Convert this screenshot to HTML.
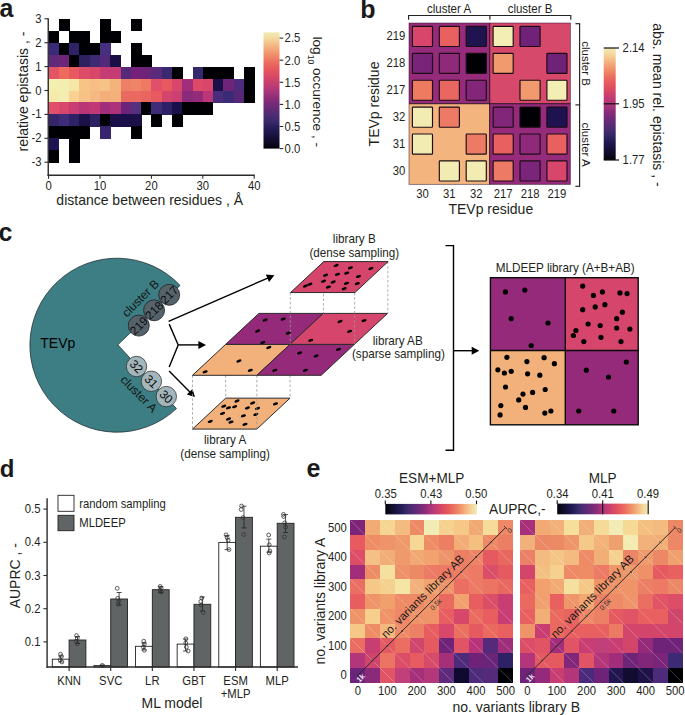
<!DOCTYPE html>
<html><head><meta charset="utf-8"><title>figure</title>
<style>
html,body{margin:0;padding:0;background:#ffffff;width:685px;height:715px;overflow:hidden}
svg{display:block}
text{font-family:"Liberation Sans",sans-serif}
</style></head><body>
<svg width="685" height="715" viewBox="0 0 685 715">
<rect x="0" y="0" width="685" height="715" fill="#fff"/>
<text x="-0.50" y="16.80" font-size="25" text-anchor="start" fill="#1a1a1a" font-weight="bold" >a</text>
<g shape-rendering="crispEdges">
<rect x="58.88" y="18.80" width="10.68" height="12.35" fill="#000004" />
<rect x="100.00" y="18.80" width="10.68" height="12.35" fill="#000004" />
<rect x="130.84" y="18.80" width="10.68" height="12.35" fill="#000004" />
<rect x="48.60" y="30.75" width="10.68" height="12.35" fill="#000004" />
<rect x="69.16" y="30.75" width="10.68" height="12.35" fill="#000004" />
<rect x="79.44" y="30.75" width="10.68" height="12.35" fill="#000004" />
<rect x="100.00" y="30.75" width="10.68" height="12.35" fill="#000004" />
<rect x="110.28" y="30.75" width="10.68" height="12.35" fill="#000004" />
<rect x="48.60" y="42.70" width="10.68" height="12.35" fill="#3b2a7a" />
<rect x="58.88" y="42.70" width="10.68" height="12.35" fill="#000004" />
<rect x="69.16" y="42.70" width="10.68" height="12.35" fill="#2f2266" />
<rect x="79.44" y="42.70" width="10.68" height="12.35" fill="#000004" />
<rect x="89.72" y="42.70" width="10.68" height="12.35" fill="#000004" />
<rect x="100.00" y="42.70" width="10.68" height="12.35" fill="#45307f" />
<rect x="130.84" y="42.70" width="10.68" height="12.35" fill="#000004" />
<rect x="48.60" y="54.65" width="10.68" height="12.35" fill="#5f2a78" />
<rect x="58.88" y="54.65" width="10.68" height="12.35" fill="#6e2478" />
<rect x="69.16" y="54.65" width="10.68" height="12.35" fill="#000004" />
<rect x="79.44" y="54.65" width="10.68" height="12.35" fill="#2e215f" />
<rect x="89.72" y="54.65" width="10.68" height="12.35" fill="#3c2a75" />
<rect x="100.00" y="54.65" width="10.68" height="12.35" fill="#55297a" />
<rect x="110.28" y="54.65" width="10.68" height="12.35" fill="#1a0f45" />
<rect x="130.84" y="54.65" width="10.68" height="12.35" fill="#000004" />
<rect x="141.12" y="54.65" width="10.68" height="12.35" fill="#000004" />
<rect x="48.60" y="66.60" width="10.68" height="12.35" fill="#e55465" />
<rect x="58.88" y="66.60" width="10.68" height="12.35" fill="#ee6a5c" />
<rect x="69.16" y="66.60" width="10.68" height="12.35" fill="#e85a5f" />
<rect x="79.44" y="66.60" width="10.68" height="12.35" fill="#dc4b68" />
<rect x="89.72" y="66.60" width="10.68" height="12.35" fill="#d8476a" />
<rect x="100.00" y="66.60" width="10.68" height="12.35" fill="#c53b74" />
<rect x="110.28" y="66.60" width="10.68" height="12.35" fill="#c53b74" />
<rect x="120.56" y="66.60" width="10.68" height="12.35" fill="#56297a" />
<rect x="130.84" y="66.60" width="10.68" height="12.35" fill="#75207a" />
<rect x="141.12" y="66.60" width="10.68" height="12.35" fill="#6e2378" />
<rect x="151.40" y="66.60" width="10.68" height="12.35" fill="#5a2a7c" />
<rect x="161.68" y="66.60" width="10.68" height="12.35" fill="#3a2870" />
<rect x="171.96" y="66.60" width="10.68" height="12.35" fill="#000004" />
<rect x="192.52" y="66.60" width="10.68" height="12.35" fill="#35286e" />
<rect x="202.80" y="66.60" width="10.68" height="12.35" fill="#000004" />
<rect x="213.08" y="66.60" width="10.68" height="12.35" fill="#000004" />
<rect x="223.36" y="66.60" width="10.68" height="12.35" fill="#000004" />
<rect x="243.92" y="66.60" width="10.68" height="12.35" fill="#000004" />
<rect x="48.60" y="78.55" width="10.68" height="12.35" fill="#f2efb0" />
<rect x="58.88" y="78.55" width="10.68" height="12.35" fill="#f2eeb0" />
<rect x="69.16" y="78.55" width="10.68" height="12.35" fill="#f6e6a8" />
<rect x="79.44" y="78.55" width="10.68" height="12.35" fill="#f7c486" />
<rect x="89.72" y="78.55" width="10.68" height="12.35" fill="#f6bd84" />
<rect x="100.00" y="78.55" width="10.68" height="12.35" fill="#f7c285" />
<rect x="110.28" y="78.55" width="10.68" height="12.35" fill="#f4b37c" />
<rect x="120.56" y="78.55" width="10.68" height="12.35" fill="#ee8068" />
<rect x="130.84" y="78.55" width="10.68" height="12.35" fill="#ef8468" />
<rect x="141.12" y="78.55" width="10.68" height="12.35" fill="#ee7a64" />
<rect x="151.40" y="78.55" width="10.68" height="12.35" fill="#e0506a" />
<rect x="161.68" y="78.55" width="10.68" height="12.35" fill="#e8585f" />
<rect x="171.96" y="78.55" width="10.68" height="12.35" fill="#d8466c" />
<rect x="182.24" y="78.55" width="10.68" height="12.35" fill="#a12e7a" />
<rect x="192.52" y="78.55" width="10.68" height="12.35" fill="#dc4a68" />
<rect x="202.80" y="78.55" width="10.68" height="12.35" fill="#d8466c" />
<rect x="213.08" y="78.55" width="10.68" height="12.35" fill="#1b1048" />
<rect x="223.36" y="78.55" width="10.68" height="12.35" fill="#6e2478" />
<rect x="233.64" y="78.55" width="10.68" height="12.35" fill="#4d2b7d" />
<rect x="243.92" y="78.55" width="10.68" height="12.35" fill="#000004" />
<rect x="48.60" y="90.50" width="10.68" height="12.35" fill="#f4eaa9" />
<rect x="58.88" y="90.50" width="10.68" height="12.35" fill="#f2edb0" />
<rect x="69.16" y="90.50" width="10.68" height="12.35" fill="#f8d193" />
<rect x="79.44" y="90.50" width="10.68" height="12.35" fill="#f6c286" />
<rect x="89.72" y="90.50" width="10.68" height="12.35" fill="#f5b882" />
<rect x="100.00" y="90.50" width="10.68" height="12.35" fill="#f4ae7a" />
<rect x="110.28" y="90.50" width="10.68" height="12.35" fill="#f4b07b" />
<rect x="120.56" y="90.50" width="10.68" height="12.35" fill="#ea6960" />
<rect x="130.84" y="90.50" width="10.68" height="12.35" fill="#ea6a5f" />
<rect x="141.12" y="90.50" width="10.68" height="12.35" fill="#e9655f" />
<rect x="151.40" y="90.50" width="10.68" height="12.35" fill="#e85a5f" />
<rect x="161.68" y="90.50" width="10.68" height="12.35" fill="#d4456c" />
<rect x="171.96" y="90.50" width="10.68" height="12.35" fill="#cc3f71" />
<rect x="182.24" y="90.50" width="10.68" height="12.35" fill="#8a2a7a" />
<rect x="192.52" y="90.50" width="10.68" height="12.35" fill="#932b7a" />
<rect x="202.80" y="90.50" width="10.68" height="12.35" fill="#bb3677" />
<rect x="213.08" y="90.50" width="10.68" height="12.35" fill="#4a2c7c" />
<rect x="223.36" y="90.50" width="10.68" height="12.35" fill="#3b2a75" />
<rect x="233.64" y="90.50" width="10.68" height="12.35" fill="#57287a" />
<rect x="243.92" y="90.50" width="10.68" height="12.35" fill="#000004" />
<rect x="48.60" y="102.45" width="10.68" height="12.35" fill="#e0506a" />
<rect x="58.88" y="102.45" width="10.68" height="12.35" fill="#d8466c" />
<rect x="69.16" y="102.45" width="10.68" height="12.35" fill="#ca3d72" />
<rect x="79.44" y="102.45" width="10.68" height="12.35" fill="#b93576" />
<rect x="89.72" y="102.45" width="10.68" height="12.35" fill="#c03875" />
<rect x="100.00" y="102.45" width="10.68" height="12.35" fill="#a12e7a" />
<rect x="110.28" y="102.45" width="10.68" height="12.35" fill="#ae3279" />
<rect x="120.56" y="102.45" width="10.68" height="12.35" fill="#6b2479" />
<rect x="130.84" y="102.45" width="10.68" height="12.35" fill="#54307e" />
<rect x="141.12" y="102.45" width="10.68" height="12.35" fill="#000004" />
<rect x="151.40" y="102.45" width="10.68" height="12.35" fill="#3f2c78" />
<rect x="161.68" y="102.45" width="10.68" height="12.35" fill="#2e2166" />
<rect x="171.96" y="102.45" width="10.68" height="12.35" fill="#1c1048" />
<rect x="182.24" y="102.45" width="10.68" height="12.35" fill="#000004" />
<rect x="192.52" y="102.45" width="10.68" height="12.35" fill="#000004" />
<rect x="202.80" y="102.45" width="10.68" height="12.35" fill="#000004" />
<rect x="48.60" y="114.40" width="10.68" height="12.35" fill="#35256b" />
<rect x="58.88" y="114.40" width="10.68" height="12.35" fill="#3f2c78" />
<rect x="69.16" y="114.40" width="10.68" height="12.35" fill="#2e2166" />
<rect x="79.44" y="114.40" width="10.68" height="12.35" fill="#1d1248" />
<rect x="89.72" y="114.40" width="10.68" height="12.35" fill="#2d2063" />
<rect x="100.00" y="114.40" width="10.68" height="12.35" fill="#000004" />
<rect x="110.28" y="114.40" width="10.68" height="12.35" fill="#1a0f48" />
<rect x="120.56" y="114.40" width="10.68" height="12.35" fill="#1a0f48" />
<rect x="130.84" y="114.40" width="10.68" height="12.35" fill="#1c1047" />
<rect x="151.40" y="114.40" width="10.68" height="12.35" fill="#000004" />
<rect x="171.96" y="114.40" width="10.68" height="12.35" fill="#000004" />
<rect x="48.60" y="126.35" width="10.68" height="12.35" fill="#000004" />
<rect x="58.88" y="126.35" width="10.68" height="12.35" fill="#000004" />
<rect x="69.16" y="126.35" width="10.68" height="12.35" fill="#000004" />
<rect x="79.44" y="126.35" width="10.68" height="12.35" fill="#000004" />
<rect x="100.00" y="126.35" width="10.68" height="12.35" fill="#36256d" />
<rect x="130.84" y="126.35" width="10.68" height="12.35" fill="#000004" />
<rect x="48.60" y="138.30" width="10.68" height="12.35" fill="#1e1250" />
<rect x="69.16" y="138.30" width="10.68" height="12.35" fill="#000004" />
<rect x="48.60" y="150.25" width="10.68" height="12.35" fill="#000004" />
<rect x="69.16" y="150.25" width="10.68" height="12.35" fill="#000004" />
</g>
<line x1="48.25" y1="18.20" x2="48.25" y2="175.90" stroke="#2b2b2b" stroke-width="1.4" />
<line x1="47.55" y1="175.20" x2="254.80" y2="175.20" stroke="#2b2b2b" stroke-width="1.4" />
<line x1="44.40" y1="18.80" x2="48.00" y2="18.80" stroke="#2b2b2b" stroke-width="1.1" />
<text transform="translate(41.60,22.80) scale(0.9390,1)" font-size="12.03" text-anchor="end" fill="#231f20" >3</text>
<line x1="44.40" y1="42.70" x2="48.00" y2="42.70" stroke="#2b2b2b" stroke-width="1.1" />
<text transform="translate(41.60,46.70) scale(0.9390,1)" font-size="12.03" text-anchor="end" fill="#231f20" >2</text>
<line x1="44.40" y1="66.60" x2="48.00" y2="66.60" stroke="#2b2b2b" stroke-width="1.1" />
<text transform="translate(41.60,70.60) scale(0.9390,1)" font-size="12.03" text-anchor="end" fill="#231f20" >1</text>
<line x1="44.40" y1="90.50" x2="48.00" y2="90.50" stroke="#2b2b2b" stroke-width="1.1" />
<text transform="translate(41.60,94.50) scale(0.9390,1)" font-size="12.03" text-anchor="end" fill="#231f20" >0</text>
<line x1="44.40" y1="114.40" x2="48.00" y2="114.40" stroke="#2b2b2b" stroke-width="1.1" />
<text transform="translate(41.60,118.40) scale(0.9390,1)" font-size="12.03" text-anchor="end" fill="#231f20" >-1</text>
<line x1="44.40" y1="138.30" x2="48.00" y2="138.30" stroke="#2b2b2b" stroke-width="1.1" />
<text transform="translate(41.60,142.30) scale(0.9390,1)" font-size="12.03" text-anchor="end" fill="#231f20" >-2</text>
<line x1="44.40" y1="162.20" x2="48.00" y2="162.20" stroke="#2b2b2b" stroke-width="1.1" />
<text transform="translate(41.60,166.20) scale(0.9390,1)" font-size="12.03" text-anchor="end" fill="#231f20" >-3</text>
<line x1="48.60" y1="175.20" x2="48.60" y2="178.80" stroke="#2b2b2b" stroke-width="1.1" />
<text transform="translate(48.60,189.60) scale(0.9390,1)" font-size="12.03" text-anchor="middle" fill="#231f20" >0</text>
<line x1="100.00" y1="175.20" x2="100.00" y2="178.80" stroke="#2b2b2b" stroke-width="1.1" />
<text transform="translate(100.00,189.60) scale(0.9390,1)" font-size="12.03" text-anchor="middle" fill="#231f20" >10</text>
<line x1="151.40" y1="175.20" x2="151.40" y2="178.80" stroke="#2b2b2b" stroke-width="1.1" />
<text transform="translate(151.40,189.60) scale(0.9390,1)" font-size="12.03" text-anchor="middle" fill="#231f20" >20</text>
<line x1="202.80" y1="175.20" x2="202.80" y2="178.80" stroke="#2b2b2b" stroke-width="1.1" />
<text transform="translate(202.80,189.60) scale(0.9390,1)" font-size="12.03" text-anchor="middle" fill="#231f20" >30</text>
<line x1="254.20" y1="175.20" x2="254.20" y2="178.80" stroke="#2b2b2b" stroke-width="1.1" />
<text transform="translate(254.20,189.60) scale(0.9390,1)" font-size="12.03" text-anchor="middle" fill="#231f20" >40</text>
<text transform="translate(149.70,204.60) scale(0.9390,1)" font-size="14.91" text-anchor="middle" fill="#231f20" >distance between residues , Å</text>
<text transform="translate(27.60,91.50) rotate(-90)" font-size="14" text-anchor="middle" fill="#231f20" >relative epistasis , -</text>
<defs><linearGradient id="gA" x1="0" y1="0" x2="0" y2="1"><stop offset="0.0000" stop-color="#f0eab4"/><stop offset="0.0312" stop-color="#f2e1a7"/><stop offset="0.0625" stop-color="#f4d399"/><stop offset="0.0938" stop-color="#f4c38c"/><stop offset="0.1250" stop-color="#f3b37e"/><stop offset="0.1562" stop-color="#f2a174"/><stop offset="0.1875" stop-color="#f0916c"/><stop offset="0.2188" stop-color="#ee8265"/><stop offset="0.2500" stop-color="#eb7261"/><stop offset="0.2812" stop-color="#e9655f"/><stop offset="0.3125" stop-color="#e65a5e"/><stop offset="0.3438" stop-color="#e15160"/><stop offset="0.3750" stop-color="#d94a65"/><stop offset="0.4062" stop-color="#cf436b"/><stop offset="0.4375" stop-color="#c53e71"/><stop offset="0.4688" stop-color="#bb3975"/><stop offset="0.5000" stop-color="#ad3678"/><stop offset="0.5312" stop-color="#9e3279"/><stop offset="0.5625" stop-color="#8f2d79"/><stop offset="0.5938" stop-color="#812b78"/><stop offset="0.6250" stop-color="#722a78"/><stop offset="0.6562" stop-color="#652a77"/><stop offset="0.6875" stop-color="#582a75"/><stop offset="0.7188" stop-color="#4c2b73"/><stop offset="0.7500" stop-color="#402a6e"/><stop offset="0.7812" stop-color="#342766"/><stop offset="0.8125" stop-color="#291f5b"/><stop offset="0.8438" stop-color="#201950"/><stop offset="0.8750" stop-color="#1a1444"/><stop offset="0.9062" stop-color="#140f36"/><stop offset="0.9375" stop-color="#0f0c28"/><stop offset="0.9688" stop-color="#0a0719"/><stop offset="1.0000" stop-color="#030208"/></linearGradient>
<linearGradient id="gB" x1="0" y1="0" x2="0" y2="1"><stop offset="0.0000" stop-color="#f0eab4"/><stop offset="0.0312" stop-color="#f2e1a7"/><stop offset="0.0625" stop-color="#f4d399"/><stop offset="0.0938" stop-color="#f4c38c"/><stop offset="0.1250" stop-color="#f3b37e"/><stop offset="0.1562" stop-color="#f2a174"/><stop offset="0.1875" stop-color="#f0916c"/><stop offset="0.2188" stop-color="#ee8265"/><stop offset="0.2500" stop-color="#eb7261"/><stop offset="0.2812" stop-color="#e9655f"/><stop offset="0.3125" stop-color="#e65a5e"/><stop offset="0.3438" stop-color="#e15160"/><stop offset="0.3750" stop-color="#d94a65"/><stop offset="0.4062" stop-color="#cf436b"/><stop offset="0.4375" stop-color="#c53e71"/><stop offset="0.4688" stop-color="#bb3975"/><stop offset="0.5000" stop-color="#ad3678"/><stop offset="0.5312" stop-color="#9e3279"/><stop offset="0.5625" stop-color="#8f2d79"/><stop offset="0.5938" stop-color="#812b78"/><stop offset="0.6250" stop-color="#722a78"/><stop offset="0.6562" stop-color="#652a77"/><stop offset="0.6875" stop-color="#582a75"/><stop offset="0.7188" stop-color="#4c2b73"/><stop offset="0.7500" stop-color="#402a6e"/><stop offset="0.7812" stop-color="#342766"/><stop offset="0.8125" stop-color="#291f5b"/><stop offset="0.8438" stop-color="#201950"/><stop offset="0.8750" stop-color="#1a1444"/><stop offset="0.9062" stop-color="#140f36"/><stop offset="0.9375" stop-color="#0f0c28"/><stop offset="0.9688" stop-color="#0a0719"/><stop offset="1.0000" stop-color="#030208"/></linearGradient>
<linearGradient id="gE" x1="0" y1="0" x2="1" y2="0"><stop offset="0.0000" stop-color="#030208"/><stop offset="0.0312" stop-color="#0a0719"/><stop offset="0.0625" stop-color="#0f0c28"/><stop offset="0.0938" stop-color="#140f36"/><stop offset="0.1250" stop-color="#1a1444"/><stop offset="0.1562" stop-color="#201950"/><stop offset="0.1875" stop-color="#291f5b"/><stop offset="0.2188" stop-color="#342766"/><stop offset="0.2500" stop-color="#402a6e"/><stop offset="0.2812" stop-color="#4c2b73"/><stop offset="0.3125" stop-color="#582a75"/><stop offset="0.3438" stop-color="#652a77"/><stop offset="0.3750" stop-color="#722a78"/><stop offset="0.4062" stop-color="#812b78"/><stop offset="0.4375" stop-color="#8f2d79"/><stop offset="0.4688" stop-color="#9e3279"/><stop offset="0.5000" stop-color="#ad3678"/><stop offset="0.5312" stop-color="#bb3975"/><stop offset="0.5625" stop-color="#c53e71"/><stop offset="0.5938" stop-color="#cf436b"/><stop offset="0.6250" stop-color="#d94a65"/><stop offset="0.6562" stop-color="#e15160"/><stop offset="0.6875" stop-color="#e65a5e"/><stop offset="0.7188" stop-color="#e9655f"/><stop offset="0.7500" stop-color="#eb7261"/><stop offset="0.7812" stop-color="#ee8265"/><stop offset="0.8125" stop-color="#f0916c"/><stop offset="0.8438" stop-color="#f2a174"/><stop offset="0.8750" stop-color="#f3b37e"/><stop offset="0.9062" stop-color="#f4c38c"/><stop offset="0.9375" stop-color="#f4d399"/><stop offset="0.9688" stop-color="#f2e1a7"/><stop offset="1.0000" stop-color="#f0eab4"/></linearGradient></defs>
<rect x="263.50" y="32.30" width="16.00" height="116.30" fill="url(#gA)" />
<line x1="279.60" y1="148.60" x2="283.20" y2="148.60" stroke="#2b2b2b" stroke-width="1.1" />
<text transform="translate(284.60,152.90) scale(0.9390,1)" font-size="12.03" text-anchor="start" fill="#231f20" >0.0</text>
<line x1="279.60" y1="126.50" x2="283.20" y2="126.50" stroke="#2b2b2b" stroke-width="1.1" />
<text transform="translate(284.60,130.80) scale(0.9390,1)" font-size="12.03" text-anchor="start" fill="#231f20" >0.5</text>
<line x1="279.60" y1="104.40" x2="283.20" y2="104.40" stroke="#2b2b2b" stroke-width="1.1" />
<text transform="translate(284.60,108.70) scale(0.9390,1)" font-size="12.03" text-anchor="start" fill="#231f20" >1.0</text>
<line x1="279.60" y1="82.30" x2="283.20" y2="82.30" stroke="#2b2b2b" stroke-width="1.1" />
<text transform="translate(284.60,86.60) scale(0.9390,1)" font-size="12.03" text-anchor="start" fill="#231f20" >1.5</text>
<line x1="279.60" y1="60.20" x2="283.20" y2="60.20" stroke="#2b2b2b" stroke-width="1.1" />
<text transform="translate(284.60,64.50) scale(0.9390,1)" font-size="12.03" text-anchor="start" fill="#231f20" >2.0</text>
<line x1="279.60" y1="38.10" x2="283.20" y2="38.10" stroke="#2b2b2b" stroke-width="1.1" />
<text transform="translate(284.60,42.40) scale(0.9390,1)" font-size="12.03" text-anchor="start" fill="#231f20" >2.5</text>
<text transform="translate(312.9,36.4) rotate(90)" font-size="13.7" fill="#231f20">log<tspan font-size="8.5" dy="4.4">10</tspan><tspan dy="-4.4"> occurence , -</tspan></text>
<text x="360.30" y="17.80" font-size="25" text-anchor="start" fill="#1a1a1a" font-weight="bold" >b</text>
<rect x="409.00" y="23.00" width="80.70" height="80.70" fill="#962b7c" />
<rect x="489.70" y="23.00" width="80.70" height="80.70" fill="#d6496b" />
<rect x="409.00" y="103.70" width="80.70" height="80.70" fill="#f3b47e" />
<rect x="489.70" y="103.70" width="80.70" height="80.70" fill="#962b7c" />
<rect x="409.00" y="23.00" width="161.40" height="161.40" fill="none" stroke="#2a0f22" stroke-opacity="0.55" stroke-width="0.9"/>
<line x1="489.70" y1="23.00" x2="489.70" y2="184.40" stroke="#2a0f22" stroke-width="1.0" />
<line x1="409.00" y1="103.70" x2="570.40" y2="103.70" stroke="#2a0f22" stroke-width="1.0" />
<rect x="412.40" y="26.40" width="20.1" height="20.1" rx="0.7" fill="#d8466c" stroke="#1c0c16" stroke-width="1.15"/>
<rect x="439.30" y="26.40" width="20.1" height="20.1" rx="0.7" fill="#e8605f" stroke="#1c0c16" stroke-width="1.15"/>
<rect x="466.20" y="26.40" width="20.1" height="20.1" rx="0.7" fill="#201450" stroke="#1c0c16" stroke-width="1.15"/>
<rect x="493.10" y="26.40" width="20.1" height="20.1" rx="0.7" fill="#f3eeb3" stroke="#1c0c16" stroke-width="1.15"/>
<rect x="520.00" y="26.40" width="20.1" height="20.1" rx="0.7" fill="#6f2278" stroke="#1c0c16" stroke-width="1.15"/>
<rect x="412.40" y="53.30" width="20.1" height="20.1" rx="0.7" fill="#7a2479" stroke="#1c0c16" stroke-width="1.15"/>
<rect x="439.30" y="53.30" width="20.1" height="20.1" rx="0.7" fill="#8f2a7b" stroke="#1c0c16" stroke-width="1.15"/>
<rect x="466.20" y="53.30" width="20.1" height="20.1" rx="0.7" fill="#000004" stroke="#1c0c16" stroke-width="1.15"/>
<rect x="493.10" y="53.30" width="20.1" height="20.1" rx="0.7" fill="#f09a6d" stroke="#1c0c16" stroke-width="1.15"/>
<rect x="546.90" y="53.30" width="20.1" height="20.1" rx="0.7" fill="#6e2378" stroke="#1c0c16" stroke-width="1.15"/>
<rect x="412.40" y="80.20" width="20.1" height="20.1" rx="0.7" fill="#ee7a60" stroke="#1c0c16" stroke-width="1.15"/>
<rect x="439.30" y="80.20" width="20.1" height="20.1" rx="0.7" fill="#ea6660" stroke="#1c0c16" stroke-width="1.15"/>
<rect x="466.20" y="80.20" width="20.1" height="20.1" rx="0.7" fill="#832679" stroke="#1c0c16" stroke-width="1.15"/>
<rect x="520.00" y="80.20" width="20.1" height="20.1" rx="0.7" fill="#f09a6d" stroke="#1c0c16" stroke-width="1.15"/>
<rect x="546.90" y="80.20" width="20.1" height="20.1" rx="0.7" fill="#f3eeb3" stroke="#1c0c16" stroke-width="1.15"/>
<rect x="412.40" y="107.10" width="20.1" height="20.1" rx="0.7" fill="#f2ecb2" stroke="#1c0c16" stroke-width="1.15"/>
<rect x="439.30" y="107.10" width="20.1" height="20.1" rx="0.7" fill="#ec7a64" stroke="#1c0c16" stroke-width="1.15"/>
<rect x="493.10" y="107.10" width="20.1" height="20.1" rx="0.7" fill="#822679" stroke="#1c0c16" stroke-width="1.15"/>
<rect x="520.00" y="107.10" width="20.1" height="20.1" rx="0.7" fill="#000004" stroke="#1c0c16" stroke-width="1.15"/>
<rect x="546.90" y="107.10" width="20.1" height="20.1" rx="0.7" fill="#1e1250" stroke="#1c0c16" stroke-width="1.15"/>
<rect x="412.40" y="134.00" width="20.1" height="20.1" rx="0.7" fill="#f2ecb2" stroke="#1c0c16" stroke-width="1.15"/>
<rect x="466.20" y="134.00" width="20.1" height="20.1" rx="0.7" fill="#ec7a64" stroke="#1c0c16" stroke-width="1.15"/>
<rect x="493.10" y="134.00" width="20.1" height="20.1" rx="0.7" fill="#e8605f" stroke="#1c0c16" stroke-width="1.15"/>
<rect x="520.00" y="134.00" width="20.1" height="20.1" rx="0.7" fill="#8f2a7b" stroke="#1c0c16" stroke-width="1.15"/>
<rect x="546.90" y="134.00" width="20.1" height="20.1" rx="0.7" fill="#e8605f" stroke="#1c0c16" stroke-width="1.15"/>
<rect x="439.30" y="160.90" width="20.1" height="20.1" rx="0.7" fill="#f2ecb2" stroke="#1c0c16" stroke-width="1.15"/>
<rect x="466.20" y="160.90" width="20.1" height="20.1" rx="0.7" fill="#f2ecb2" stroke="#1c0c16" stroke-width="1.15"/>
<rect x="493.10" y="160.90" width="20.1" height="20.1" rx="0.7" fill="#ec7a64" stroke="#1c0c16" stroke-width="1.15"/>
<rect x="520.00" y="160.90" width="20.1" height="20.1" rx="0.7" fill="#7a2579" stroke="#1c0c16" stroke-width="1.15"/>
<rect x="546.90" y="160.90" width="20.1" height="20.1" rx="0.7" fill="#d8466c" stroke="#1c0c16" stroke-width="1.15"/>
<line x1="408.60" y1="15.45" x2="570.80" y2="15.45" stroke="#222" stroke-width="1.15" />
<line x1="408.60" y1="14.90" x2="408.60" y2="19.80" stroke="#222" stroke-width="1.15" />
<line x1="489.90" y1="14.90" x2="489.90" y2="19.80" stroke="#222" stroke-width="1.15" />
<line x1="570.80" y1="14.90" x2="570.80" y2="19.80" stroke="#222" stroke-width="1.15" />
<text transform="translate(449.00,12.80) scale(0.9390,1)" font-size="12.25" text-anchor="middle" fill="#231f20" >cluster A</text>
<text transform="translate(530.00,12.80) scale(0.9390,1)" font-size="12.25" text-anchor="middle" fill="#231f20" >cluster B</text>
<line x1="579.60" y1="23.70" x2="579.60" y2="186.30" stroke="#222" stroke-width="1.15" />
<line x1="575.40" y1="23.70" x2="580.15" y2="23.70" stroke="#222" stroke-width="1.15" />
<line x1="575.40" y1="104.90" x2="580.15" y2="104.90" stroke="#222" stroke-width="1.15" />
<line x1="575.40" y1="186.30" x2="580.15" y2="186.30" stroke="#222" stroke-width="1.15" />
<text transform="translate(582.00,63.60) rotate(90)" font-size="11.5" text-anchor="middle" fill="#231f20" >cluster B</text>
<text transform="translate(582.00,144.60) rotate(90)" font-size="11.5" text-anchor="middle" fill="#231f20" >cluster A</text>
<text transform="translate(405.40,40.45) scale(0.9390,1)" font-size="12.03" text-anchor="end" fill="#231f20" >219</text>
<text transform="translate(405.40,67.35) scale(0.9390,1)" font-size="12.03" text-anchor="end" fill="#231f20" >218</text>
<text transform="translate(405.40,94.25) scale(0.9390,1)" font-size="12.03" text-anchor="end" fill="#231f20" >217</text>
<text transform="translate(405.40,121.15) scale(0.9390,1)" font-size="12.03" text-anchor="end" fill="#231f20" >32</text>
<text transform="translate(405.40,148.05) scale(0.9390,1)" font-size="12.03" text-anchor="end" fill="#231f20" >31</text>
<text transform="translate(405.40,174.95) scale(0.9390,1)" font-size="12.03" text-anchor="end" fill="#231f20" >30</text>
<text transform="translate(422.45,197.90) scale(0.9390,1)" font-size="12.03" text-anchor="middle" fill="#231f20" >30</text>
<text transform="translate(449.35,197.90) scale(0.9390,1)" font-size="12.03" text-anchor="middle" fill="#231f20" >31</text>
<text transform="translate(476.25,197.90) scale(0.9390,1)" font-size="12.03" text-anchor="middle" fill="#231f20" >32</text>
<text transform="translate(503.15,197.90) scale(0.9390,1)" font-size="12.03" text-anchor="middle" fill="#231f20" >217</text>
<text transform="translate(530.05,197.90) scale(0.9390,1)" font-size="12.03" text-anchor="middle" fill="#231f20" >218</text>
<text transform="translate(556.95,197.90) scale(0.9390,1)" font-size="12.03" text-anchor="middle" fill="#231f20" >219</text>
<text transform="translate(490.80,214.20) scale(0.9390,1)" font-size="14.91" text-anchor="middle" fill="#231f20" >TEVp residue</text>
<text transform="translate(378.90,104.00) rotate(-90)" font-size="14" text-anchor="middle" fill="#231f20" >TEVp residue</text>
<rect x="603.70" y="48.00" width="12.00" height="112.00" fill="url(#gB)" />
<line x1="603.70" y1="48.00" x2="619.00" y2="48.00" stroke="#111" stroke-width="1.2" />
<line x1="603.70" y1="103.80" x2="619.00" y2="103.80" stroke="#111" stroke-width="1.2" />
<line x1="603.70" y1="160.00" x2="619.00" y2="160.00" stroke="#111" stroke-width="1.2" />
<text transform="translate(622.60,52.00) scale(0.9390,1)" font-size="12.03" text-anchor="start" fill="#231f20" >2.14</text>
<text transform="translate(622.60,107.80) scale(0.9390,1)" font-size="12.03" text-anchor="start" fill="#231f20" >1.95</text>
<text transform="translate(622.60,164.00) scale(0.9390,1)" font-size="12.03" text-anchor="start" fill="#231f20" >1.77</text>
<text transform="translate(653.00,23.30) rotate(90)" font-size="14" text-anchor="start" fill="#231f20" >abs. mean rel. epistasis , -</text>
<text x="-1.50" y="240.60" font-size="25" text-anchor="start" fill="#1a1a1a" font-weight="bold" >c</text>
<path d="M 117.80 344.80 L 176.46 408.62 A 87.0 87.0 0 1 1 180.11 285.42 Z" fill="#3c7e84" stroke="#1e2a2c" stroke-width="0.75"/>
<text transform="translate(40.30,348.00) scale(0.9390,1)" font-size="14.91" text-anchor="start" fill="#000" >TEVp</text>
<circle cx="138.8" cy="325.6" r="10.5" fill="#56626a" stroke="#222" stroke-width="0.8"/>
<text transform="translate(138.8,325.6) rotate(-45)" font-size="11.8" text-anchor="middle" fill="#0a0a0a" y="4.2">219</text>
<circle cx="154.1" cy="310.3" r="10.5" fill="#56626a" stroke="#222" stroke-width="0.8"/>
<text transform="translate(154.1,310.3) rotate(-45)" font-size="11.8" text-anchor="middle" fill="#0a0a0a" y="4.2">218</text>
<circle cx="169.2" cy="294.8" r="10.5" fill="#56626a" stroke="#222" stroke-width="0.8"/>
<text transform="translate(169.2,294.8) rotate(-45)" font-size="11.8" text-anchor="middle" fill="#0a0a0a" y="4.2">217</text>
<circle cx="136.5" cy="366.5" r="10.2" fill="#a3b6bb" stroke="#333" stroke-width="0.8"/>
<text transform="translate(136.5,366.5) rotate(45)" font-size="11.8" text-anchor="middle" fill="#0a0a0a" y="4.2">32</text>
<circle cx="151.4" cy="381.3" r="10.2" fill="#a3b6bb" stroke="#333" stroke-width="0.8"/>
<text transform="translate(151.4,381.3) rotate(45)" font-size="11.8" text-anchor="middle" fill="#0a0a0a" y="4.2">31</text>
<circle cx="166.3" cy="396.6" r="10.2" fill="#a3b6bb" stroke="#333" stroke-width="0.8"/>
<text transform="translate(166.3,396.6) rotate(45)" font-size="11.8" text-anchor="middle" fill="#0a0a0a" y="4.2">30</text>
<text transform="translate(143.4,301.2) rotate(-45)" font-size="12" text-anchor="middle" fill="#151515">cluster B</text>
<text transform="translate(135.9,396.8) rotate(45)" font-size="12" text-anchor="middle" fill="#151515">cluster A</text>
<line x1="168.60" y1="321.30" x2="268.35" y2="277.84" stroke="#000" stroke-width="1.4" />
<path d="M 274.40 275.20 L 269.03 281.90 L 265.83 274.57 Z" fill="#000"/>
<polyline points="169.2,324.1 178.2,344.9 169.2,366.9" fill="none" stroke="#000" stroke-width="1.4"/>
<line x1="178.20" y1="344.90" x2="199.40" y2="344.90" stroke="#000" stroke-width="1.4" />
<path d="M 206.00 344.90 L 198.40 348.90 L 198.40 340.90 Z" fill="#000"/>
<line x1="169.10" y1="371.10" x2="190.34" y2="392.42" stroke="#000" stroke-width="1.4" />
<path d="M 195.00 397.10 L 186.80 394.54 L 192.47 388.89 Z" fill="#000"/>
<polygon points="192.50,429.10 256.85,429.10 290.05,398.15 225.70,398.15" fill="#f2b07b" stroke="#2a2a2a" stroke-width="1.0" stroke-linejoin="miter"/>
<ellipse cx="237.00" cy="401.00" rx="2.7" ry="1.35" transform="rotate(-20 237.00 401.00)" fill="#000"/>
<ellipse cx="252.60" cy="403.00" rx="2.7" ry="1.35" transform="rotate(-20 252.60 403.00)" fill="#000"/>
<ellipse cx="275.50" cy="403.80" rx="2.7" ry="1.35" transform="rotate(-20 275.50 403.80)" fill="#000"/>
<ellipse cx="223.70" cy="406.20" rx="2.7" ry="1.35" transform="rotate(-20 223.70 406.20)" fill="#000"/>
<ellipse cx="228.50" cy="407.80" rx="2.7" ry="1.35" transform="rotate(-20 228.50 407.80)" fill="#000"/>
<ellipse cx="234.60" cy="406.70" rx="2.7" ry="1.35" transform="rotate(-20 234.60 406.70)" fill="#000"/>
<ellipse cx="247.40" cy="407.90" rx="2.7" ry="1.35" transform="rotate(-20 247.40 407.90)" fill="#000"/>
<ellipse cx="257.50" cy="408.40" rx="2.7" ry="1.35" transform="rotate(-20 257.50 408.40)" fill="#000"/>
<ellipse cx="222.50" cy="413.40" rx="2.7" ry="1.35" transform="rotate(-20 222.50 413.40)" fill="#000"/>
<ellipse cx="243.40" cy="415.80" rx="2.7" ry="1.35" transform="rotate(-20 243.40 415.80)" fill="#000"/>
<ellipse cx="255.80" cy="414.40" rx="2.7" ry="1.35" transform="rotate(-20 255.80 414.40)" fill="#000"/>
<ellipse cx="228.50" cy="419.00" rx="2.7" ry="1.35" transform="rotate(-20 228.50 419.00)" fill="#000"/>
<ellipse cx="231.00" cy="422.10" rx="2.7" ry="1.35" transform="rotate(-20 231.00 422.10)" fill="#000"/>
<ellipse cx="210.20" cy="421.40" rx="2.7" ry="1.35" transform="rotate(-20 210.20 421.40)" fill="#000"/>
<ellipse cx="245.00" cy="424.30" rx="2.7" ry="1.35" transform="rotate(-20 245.00 424.30)" fill="#000"/>
<line x1="192.50" y1="375.30" x2="192.50" y2="429.10" stroke="#9a9a9a" stroke-width="0.8" stroke-dasharray="2.6 2"/>
<line x1="225.70" y1="375.30" x2="225.70" y2="398.15" stroke="#9a9a9a" stroke-width="0.8" stroke-dasharray="2.6 2"/>
<line x1="256.85" y1="375.30" x2="256.85" y2="429.10" stroke="#9a9a9a" stroke-width="0.8" stroke-dasharray="2.6 2"/>
<line x1="290.05" y1="375.30" x2="290.05" y2="398.15" stroke="#9a9a9a" stroke-width="0.8" stroke-dasharray="2.6 2"/>
<polygon points="192.50,375.30 256.85,375.30 290.05,344.35 225.70,344.35" fill="#f2b07b" stroke="#2a2a2a" stroke-width="1.0" stroke-linejoin="miter"/>
<polygon points="256.85,375.30 321.20,375.30 354.40,344.35 290.05,344.35" fill="#952a7b" stroke="#2a2a2a" stroke-width="1.0" stroke-linejoin="miter"/>
<polygon points="225.70,344.35 290.05,344.35 323.25,313.40 258.90,313.40" fill="#952a7b" stroke="#2a2a2a" stroke-width="1.0" stroke-linejoin="miter"/>
<polygon points="290.05,344.35 354.40,344.35 387.60,313.40 323.25,313.40" fill="#d6466c" stroke="#2a2a2a" stroke-width="1.0" stroke-linejoin="miter"/>
<ellipse cx="265.20" cy="320.00" rx="2.7" ry="1.35" transform="rotate(-20 265.20 320.00)" fill="#000"/>
<ellipse cx="283.20" cy="319.10" rx="2.7" ry="1.35" transform="rotate(-20 283.20 319.10)" fill="#000"/>
<ellipse cx="257.70" cy="331.00" rx="2.7" ry="1.35" transform="rotate(-20 257.70 331.00)" fill="#000"/>
<ellipse cx="288.30" cy="333.10" rx="2.7" ry="1.35" transform="rotate(-20 288.30 333.10)" fill="#000"/>
<ellipse cx="262.80" cy="342.40" rx="2.7" ry="1.35" transform="rotate(-20 262.80 342.40)" fill="#000"/>
<ellipse cx="340.00" cy="321.50" rx="2.7" ry="1.35" transform="rotate(-20 340.00 321.50)" fill="#000"/>
<ellipse cx="364.00" cy="320.60" rx="2.7" ry="1.35" transform="rotate(-20 364.00 320.60)" fill="#000"/>
<ellipse cx="349.60" cy="331.30" rx="2.7" ry="1.35" transform="rotate(-20 349.60 331.30)" fill="#000"/>
<ellipse cx="310.70" cy="340.30" rx="2.7" ry="1.35" transform="rotate(-20 310.70 340.30)" fill="#000"/>
<ellipse cx="268.80" cy="347.50" rx="2.7" ry="1.35" transform="rotate(-20 268.80 347.50)" fill="#000"/>
<ellipse cx="238.90" cy="361.00" rx="2.7" ry="1.35" transform="rotate(-20 238.90 361.00)" fill="#000"/>
<ellipse cx="250.30" cy="370.30" rx="2.7" ry="1.35" transform="rotate(-20 250.30 370.30)" fill="#000"/>
<ellipse cx="205.10" cy="371.80" rx="2.7" ry="1.35" transform="rotate(-20 205.10 371.80)" fill="#000"/>
<ellipse cx="338.60" cy="349.30" rx="2.7" ry="1.35" transform="rotate(-20 338.60 349.30)" fill="#000"/>
<ellipse cx="299.60" cy="352.90" rx="2.7" ry="1.35" transform="rotate(-20 299.60 352.90)" fill="#000"/>
<ellipse cx="316.10" cy="355.90" rx="2.7" ry="1.35" transform="rotate(-20 316.10 355.90)" fill="#000"/>
<ellipse cx="274.80" cy="370.30" rx="2.7" ry="1.35" transform="rotate(-20 274.80 370.30)" fill="#000"/>
<ellipse cx="305.30" cy="370.30" rx="2.7" ry="1.35" transform="rotate(-20 305.30 370.30)" fill="#000"/>
<line x1="290.30" y1="292.55" x2="290.30" y2="344.35" stroke="#9a9a9a" stroke-width="0.8" stroke-dasharray="2.6 2"/>
<line x1="354.65" y1="292.55" x2="354.65" y2="344.35" stroke="#9a9a9a" stroke-width="0.8" stroke-dasharray="2.6 2"/>
<line x1="387.85" y1="261.60" x2="387.85" y2="313.40" stroke="#9a9a9a" stroke-width="0.8" stroke-dasharray="2.6 2"/>
<line x1="323.50" y1="261.60" x2="323.50" y2="313.40" stroke="#9a9a9a" stroke-width="0.8" stroke-dasharray="2.6 2"/>
<polygon points="290.55,292.55 354.90,292.55 388.10,261.60 323.75,261.60" fill="#d6466c" stroke="#2a2a2a" stroke-width="1.0" stroke-linejoin="miter"/>
<ellipse cx="336.10" cy="265.40" rx="2.7" ry="1.35" transform="rotate(-20 336.10 265.40)" fill="#000"/>
<ellipse cx="350.40" cy="267.80" rx="2.7" ry="1.35" transform="rotate(-20 350.40 267.80)" fill="#000"/>
<ellipse cx="370.90" cy="268.50" rx="2.7" ry="1.35" transform="rotate(-20 370.90 268.50)" fill="#000"/>
<ellipse cx="325.50" cy="275.20" rx="2.7" ry="1.35" transform="rotate(-20 325.50 275.20)" fill="#000"/>
<ellipse cx="337.50" cy="274.30" rx="2.7" ry="1.35" transform="rotate(-20 337.50 274.30)" fill="#000"/>
<ellipse cx="346.70" cy="273.10" rx="2.7" ry="1.35" transform="rotate(-20 346.70 273.10)" fill="#000"/>
<ellipse cx="358.40" cy="276.40" rx="2.7" ry="1.35" transform="rotate(-20 358.40 276.40)" fill="#000"/>
<ellipse cx="323.50" cy="281.20" rx="2.7" ry="1.35" transform="rotate(-20 323.50 281.20)" fill="#000"/>
<ellipse cx="333.20" cy="282.00" rx="2.7" ry="1.35" transform="rotate(-20 333.20 282.00)" fill="#000"/>
<ellipse cx="346.50" cy="283.30" rx="2.7" ry="1.35" transform="rotate(-20 346.50 283.30)" fill="#000"/>
<ellipse cx="357.30" cy="283.60" rx="2.7" ry="1.35" transform="rotate(-20 357.30 283.60)" fill="#000"/>
<ellipse cx="309.90" cy="284.20" rx="2.7" ry="1.35" transform="rotate(-20 309.90 284.20)" fill="#000"/>
<ellipse cx="305.40" cy="286.00" rx="2.7" ry="1.35" transform="rotate(-20 305.40 286.00)" fill="#000"/>
<ellipse cx="328.40" cy="287.10" rx="2.7" ry="1.35" transform="rotate(-20 328.40 287.10)" fill="#000"/>
<ellipse cx="344.10" cy="288.70" rx="2.7" ry="1.35" transform="rotate(-20 344.10 288.70)" fill="#000"/>
<text transform="translate(354.30,242.80) scale(0.9390,1)" font-size="12.46" text-anchor="middle" fill="#231f20" >library B</text>
<text transform="translate(354.30,256.60) scale(0.9390,1)" font-size="12.46" text-anchor="middle" fill="#231f20" >(dense sampling)</text>
<text transform="translate(397.70,344.50) scale(0.9390,1)" font-size="12.46" text-anchor="middle" fill="#231f20" >library AB</text>
<text transform="translate(398.40,358.10) scale(0.9390,1)" font-size="12.46" text-anchor="middle" fill="#231f20" >(sparse sampling)</text>
<text transform="translate(225.10,444.20) scale(0.9390,1)" font-size="12.46" text-anchor="middle" fill="#231f20" >library A</text>
<text transform="translate(225.10,458.00) scale(0.9390,1)" font-size="12.46" text-anchor="middle" fill="#231f20" >(dense sampling)</text>
<polyline points="445.5,245.6 453.5,245.6 453.5,450.2 445.5,450.2" fill="none" stroke="#000" stroke-width="1.4"/>
<line x1="453.50" y1="350.70" x2="472.70" y2="350.70" stroke="#000" stroke-width="1.4" />
<path d="M 479.30 350.70 L 471.70 354.70 L 471.70 346.70 Z" fill="#000"/>
<rect x="490.40" y="277.70" width="74.90" height="72.80" fill="#952a7b" />
<rect x="565.30" y="277.70" width="72.90" height="72.80" fill="#d6466c" />
<rect x="490.40" y="350.50" width="74.90" height="74.30" fill="#f2b07b" />
<rect x="565.30" y="350.50" width="72.90" height="74.30" fill="#952a7b" />
<rect x="490.4" y="277.7" width="147.80" height="147.10" fill="none" stroke="#0a0a0a" stroke-width="1.4"/>
<line x1="565.30" y1="277.70" x2="565.30" y2="424.80" stroke="#0a0a0a" stroke-width="1.4" />
<line x1="490.40" y1="350.50" x2="638.20" y2="350.50" stroke="#0a0a0a" stroke-width="1.4" />
<circle cx="505.4" cy="291.9" r="2.6" fill="#000"/>
<circle cx="524.8" cy="290.1" r="2.6" fill="#000"/>
<circle cx="511.2" cy="318.7" r="2.6" fill="#000"/>
<circle cx="548" cy="323" r="2.6" fill="#000"/>
<circle cx="531.2" cy="345.5" r="2.6" fill="#000"/>
<circle cx="582.7" cy="286.1" r="2.6" fill="#000"/>
<circle cx="593.4" cy="295.4" r="2.6" fill="#000"/>
<circle cx="602.4" cy="291.9" r="2.6" fill="#000"/>
<circle cx="619.9" cy="292.9" r="2.6" fill="#000"/>
<circle cx="627.1" cy="293.6" r="2.6" fill="#000"/>
<circle cx="582.7" cy="309.7" r="2.6" fill="#000"/>
<circle cx="595.2" cy="306.9" r="2.6" fill="#000"/>
<circle cx="604.9" cy="304.7" r="2.6" fill="#000"/>
<circle cx="622.4" cy="312.2" r="2.6" fill="#000"/>
<circle cx="616.7" cy="318.7" r="2.6" fill="#000"/>
<circle cx="575.9" cy="330.5" r="2.6" fill="#000"/>
<circle cx="573.4" cy="335.5" r="2.6" fill="#000"/>
<circle cx="588.1" cy="324" r="2.6" fill="#000"/>
<circle cx="600.2" cy="325.5" r="2.6" fill="#000"/>
<circle cx="616.7" cy="328" r="2.6" fill="#000"/>
<circle cx="629.9" cy="329.1" r="2.6" fill="#000"/>
<circle cx="583.8" cy="341.6" r="2.6" fill="#000"/>
<circle cx="601" cy="337.3" r="2.6" fill="#000"/>
<circle cx="621" cy="341.6" r="2.6" fill="#000"/>
<circle cx="506.9" cy="357.3" r="2.6" fill="#000"/>
<circle cx="526.9" cy="361.6" r="2.6" fill="#000"/>
<circle cx="544.1" cy="357.7" r="2.6" fill="#000"/>
<circle cx="554.4" cy="363.7" r="2.6" fill="#000"/>
<circle cx="497.9" cy="369.8" r="2.6" fill="#000"/>
<circle cx="504.4" cy="373" r="2.6" fill="#000"/>
<circle cx="511.2" cy="371.3" r="2.6" fill="#000"/>
<circle cx="527.6" cy="373.8" r="2.6" fill="#000"/>
<circle cx="539.8" cy="375.2" r="2.6" fill="#000"/>
<circle cx="505.5" cy="387" r="2.6" fill="#000"/>
<circle cx="523" cy="394.1" r="2.6" fill="#000"/>
<circle cx="532.6" cy="392.4" r="2.6" fill="#000"/>
<circle cx="545.2" cy="389.5" r="2.6" fill="#000"/>
<circle cx="518.7" cy="399.9" r="2.6" fill="#000"/>
<circle cx="500.8" cy="405.6" r="2.6" fill="#000"/>
<circle cx="525.5" cy="407.4" r="2.6" fill="#000"/>
<circle cx="500.1" cy="414.9" r="2.6" fill="#000"/>
<circle cx="544.8" cy="413.1" r="2.6" fill="#000"/>
<circle cx="550.9" cy="411" r="2.6" fill="#000"/>
<circle cx="586.3" cy="370.2" r="2.6" fill="#000"/>
<circle cx="626.3" cy="362" r="2.6" fill="#000"/>
<circle cx="608.5" cy="377" r="2.6" fill="#000"/>
<circle cx="578.8" cy="411" r="2.6" fill="#000"/>
<circle cx="613.8" cy="411" r="2.6" fill="#000"/>
<text transform="translate(565.20,272.20) scale(0.9390,1)" font-size="12.46" text-anchor="middle" fill="#231f20" >MLDEEP library (A+B+AB)</text>
<text x="-0.30" y="476.60" font-size="24" text-anchor="start" fill="#1a1a1a" font-weight="bold" >d</text>
<rect x="52.30" y="659.20" width="16.8" height="7.80" fill="#fff" stroke="#222" stroke-width="0.9"/>
<rect x="69.10" y="640.00" width="16.8" height="27.00" fill="#606465" stroke="#222" stroke-width="0.9"/>
<rect x="93.92" y="665.60" width="16.8" height="1.40" fill="#fff" stroke="#222" stroke-width="0.9"/>
<rect x="110.72" y="599.00" width="16.8" height="68.00" fill="#606465" stroke="#222" stroke-width="0.9"/>
<rect x="135.54" y="646.30" width="16.8" height="20.70" fill="#fff" stroke="#222" stroke-width="0.9"/>
<rect x="152.34" y="589.70" width="16.8" height="77.30" fill="#606465" stroke="#222" stroke-width="0.9"/>
<rect x="177.16" y="644.10" width="16.8" height="22.90" fill="#fff" stroke="#222" stroke-width="0.9"/>
<rect x="193.96" y="604.30" width="16.8" height="62.70" fill="#606465" stroke="#222" stroke-width="0.9"/>
<rect x="218.78" y="542.40" width="16.8" height="124.60" fill="#fff" stroke="#222" stroke-width="0.9"/>
<rect x="235.58" y="517.30" width="16.8" height="149.70" fill="#606465" stroke="#222" stroke-width="0.9"/>
<rect x="260.40" y="546.20" width="16.8" height="120.80" fill="#fff" stroke="#222" stroke-width="0.9"/>
<rect x="277.20" y="523.30" width="16.8" height="143.70" fill="#606465" stroke="#222" stroke-width="0.9"/>
<line x1="60.70" y1="656.00" x2="60.70" y2="662.00" stroke="#222" stroke-width="0.8" />
<line x1="58.20" y1="656.00" x2="63.20" y2="656.00" stroke="#222" stroke-width="0.8" />
<line x1="58.20" y1="662.00" x2="63.20" y2="662.00" stroke="#222" stroke-width="0.8" />
<line x1="77.50" y1="636.50" x2="77.50" y2="643.50" stroke="#222" stroke-width="0.8" />
<line x1="75.00" y1="636.50" x2="80.00" y2="636.50" stroke="#222" stroke-width="0.8" />
<line x1="75.00" y1="643.50" x2="80.00" y2="643.50" stroke="#222" stroke-width="0.8" />
<circle cx="60.50" cy="654.20" r="1.9" fill="none" stroke="#333" stroke-width="0.8"/>
<circle cx="61.50" cy="656.50" r="1.9" fill="none" stroke="#333" stroke-width="0.8"/>
<circle cx="60.10" cy="659.80" r="1.9" fill="none" stroke="#333" stroke-width="0.8"/>
<circle cx="61.90" cy="662.00" r="1.9" fill="none" stroke="#333" stroke-width="0.8"/>
<circle cx="76.50" cy="635.60" r="1.9" fill="none" stroke="#333" stroke-width="0.8"/>
<circle cx="77.30" cy="638.20" r="1.9" fill="none" stroke="#333" stroke-width="0.8"/>
<circle cx="76.10" cy="641.20" r="1.9" fill="none" stroke="#333" stroke-width="0.8"/>
<circle cx="77.40" cy="643.80" r="1.9" fill="none" stroke="#333" stroke-width="0.8"/>
<line x1="102.32" y1="665.00" x2="102.32" y2="666.00" stroke="#222" stroke-width="0.8" />
<line x1="99.82" y1="665.00" x2="104.82" y2="665.00" stroke="#222" stroke-width="0.8" />
<line x1="99.82" y1="666.00" x2="104.82" y2="666.00" stroke="#222" stroke-width="0.8" />
<line x1="119.12" y1="592.50" x2="119.12" y2="605.00" stroke="#222" stroke-width="0.8" />
<line x1="116.62" y1="592.50" x2="121.62" y2="592.50" stroke="#222" stroke-width="0.8" />
<line x1="116.62" y1="605.00" x2="121.62" y2="605.00" stroke="#222" stroke-width="0.8" />
<circle cx="102.32" cy="665.40" r="1.9" fill="none" stroke="#333" stroke-width="0.8"/>
<circle cx="117.22" cy="588.30" r="1.9" fill="none" stroke="#333" stroke-width="0.8"/>
<circle cx="117.72" cy="598.30" r="1.9" fill="none" stroke="#333" stroke-width="0.8"/>
<circle cx="118.72" cy="601.30" r="1.9" fill="none" stroke="#333" stroke-width="0.8"/>
<circle cx="118.22" cy="604.30" r="1.9" fill="none" stroke="#333" stroke-width="0.8"/>
<line x1="143.94" y1="643.00" x2="143.94" y2="650.00" stroke="#222" stroke-width="0.8" />
<line x1="141.44" y1="643.00" x2="146.44" y2="643.00" stroke="#222" stroke-width="0.8" />
<line x1="141.44" y1="650.00" x2="146.44" y2="650.00" stroke="#222" stroke-width="0.8" />
<line x1="160.74" y1="586.50" x2="160.74" y2="592.50" stroke="#222" stroke-width="0.8" />
<line x1="158.24" y1="586.50" x2="163.24" y2="586.50" stroke="#222" stroke-width="0.8" />
<line x1="158.24" y1="592.50" x2="163.24" y2="592.50" stroke="#222" stroke-width="0.8" />
<circle cx="143.74" cy="641.20" r="1.9" fill="none" stroke="#333" stroke-width="0.8"/>
<circle cx="144.34" cy="644.00" r="1.9" fill="none" stroke="#333" stroke-width="0.8"/>
<circle cx="143.34" cy="647.20" r="1.9" fill="none" stroke="#333" stroke-width="0.8"/>
<circle cx="144.34" cy="650.30" r="1.9" fill="none" stroke="#333" stroke-width="0.8"/>
<circle cx="160.14" cy="586.40" r="1.9" fill="none" stroke="#333" stroke-width="0.8"/>
<circle cx="161.14" cy="588.20" r="1.9" fill="none" stroke="#333" stroke-width="0.8"/>
<circle cx="160.14" cy="590.20" r="1.9" fill="none" stroke="#333" stroke-width="0.8"/>
<circle cx="161.14" cy="592.00" r="1.9" fill="none" stroke="#333" stroke-width="0.8"/>
<line x1="185.56" y1="639.00" x2="185.56" y2="651.00" stroke="#222" stroke-width="0.8" />
<line x1="183.06" y1="639.00" x2="188.06" y2="639.00" stroke="#222" stroke-width="0.8" />
<line x1="183.06" y1="651.00" x2="188.06" y2="651.00" stroke="#222" stroke-width="0.8" />
<line x1="202.36" y1="597.00" x2="202.36" y2="611.00" stroke="#222" stroke-width="0.8" />
<line x1="199.86" y1="597.00" x2="204.86" y2="597.00" stroke="#222" stroke-width="0.8" />
<line x1="199.86" y1="611.00" x2="204.86" y2="611.00" stroke="#222" stroke-width="0.8" />
<circle cx="185.96" cy="638.80" r="1.9" fill="none" stroke="#333" stroke-width="0.8"/>
<circle cx="185.76" cy="643.00" r="1.9" fill="none" stroke="#333" stroke-width="0.8"/>
<circle cx="186.36" cy="647.00" r="1.9" fill="none" stroke="#333" stroke-width="0.8"/>
<circle cx="188.16" cy="651.00" r="1.9" fill="none" stroke="#333" stroke-width="0.8"/>
<circle cx="201.76" cy="598.00" r="1.9" fill="none" stroke="#333" stroke-width="0.8"/>
<circle cx="200.76" cy="601.50" r="1.9" fill="none" stroke="#333" stroke-width="0.8"/>
<circle cx="201.26" cy="605.00" r="1.9" fill="none" stroke="#333" stroke-width="0.8"/>
<circle cx="203.26" cy="612.50" r="1.9" fill="none" stroke="#333" stroke-width="0.8"/>
<line x1="227.18" y1="535.40" x2="227.18" y2="549.60" stroke="#222" stroke-width="0.8" />
<line x1="224.68" y1="535.40" x2="229.68" y2="535.40" stroke="#222" stroke-width="0.8" />
<line x1="224.68" y1="549.60" x2="229.68" y2="549.60" stroke="#222" stroke-width="0.8" />
<line x1="243.98" y1="506.20" x2="243.98" y2="527.90" stroke="#222" stroke-width="0.8" />
<line x1="241.48" y1="506.20" x2="246.48" y2="506.20" stroke="#222" stroke-width="0.8" />
<line x1="241.48" y1="527.90" x2="246.48" y2="527.90" stroke="#222" stroke-width="0.8" />
<circle cx="226.08" cy="534.80" r="1.9" fill="none" stroke="#333" stroke-width="0.8"/>
<circle cx="227.18" cy="537.70" r="1.9" fill="none" stroke="#333" stroke-width="0.8"/>
<circle cx="228.18" cy="540.20" r="1.9" fill="none" stroke="#333" stroke-width="0.8"/>
<circle cx="228.98" cy="549.60" r="1.9" fill="none" stroke="#333" stroke-width="0.8"/>
<circle cx="241.58" cy="506.00" r="1.9" fill="none" stroke="#333" stroke-width="0.8"/>
<circle cx="241.18" cy="509.50" r="1.9" fill="none" stroke="#333" stroke-width="0.8"/>
<circle cx="242.98" cy="517.60" r="1.9" fill="none" stroke="#333" stroke-width="0.8"/>
<circle cx="243.68" cy="534.50" r="1.9" fill="none" stroke="#333" stroke-width="0.8"/>
<line x1="268.80" y1="539.10" x2="268.80" y2="552.10" stroke="#222" stroke-width="0.8" />
<line x1="266.30" y1="539.10" x2="271.30" y2="539.10" stroke="#222" stroke-width="0.8" />
<line x1="266.30" y1="552.10" x2="271.30" y2="552.10" stroke="#222" stroke-width="0.8" />
<line x1="285.60" y1="514.60" x2="285.60" y2="532.50" stroke="#222" stroke-width="0.8" />
<line x1="283.10" y1="514.60" x2="288.10" y2="514.60" stroke="#222" stroke-width="0.8" />
<line x1="283.10" y1="532.50" x2="288.10" y2="532.50" stroke="#222" stroke-width="0.8" />
<circle cx="268.70" cy="535.00" r="1.9" fill="none" stroke="#333" stroke-width="0.8"/>
<circle cx="269.20" cy="544.80" r="1.9" fill="none" stroke="#333" stroke-width="0.8"/>
<circle cx="269.90" cy="551.00" r="1.9" fill="none" stroke="#333" stroke-width="0.8"/>
<circle cx="269.20" cy="553.00" r="1.9" fill="none" stroke="#333" stroke-width="0.8"/>
<circle cx="283.50" cy="514.40" r="1.9" fill="none" stroke="#333" stroke-width="0.8"/>
<circle cx="283.70" cy="516.50" r="1.9" fill="none" stroke="#333" stroke-width="0.8"/>
<circle cx="284.70" cy="522.90" r="1.9" fill="none" stroke="#333" stroke-width="0.8"/>
<circle cx="285.70" cy="527.00" r="1.9" fill="none" stroke="#333" stroke-width="0.8"/>
<circle cx="284.40" cy="537.00" r="1.9" fill="none" stroke="#333" stroke-width="0.8"/>
<line x1="47.10" y1="498.20" x2="47.10" y2="667.70" stroke="#2b2b2b" stroke-width="1.4" />
<line x1="46.40" y1="667.00" x2="298.00" y2="667.00" stroke="#2b2b2b" stroke-width="1.4" />
<line x1="43.40" y1="641.90" x2="47.00" y2="641.90" stroke="#2b2b2b" stroke-width="1.1" />
<text transform="translate(40.50,645.90) scale(0.9390,1)" font-size="12.03" text-anchor="end" fill="#231f20" >0.1</text>
<line x1="43.40" y1="608.70" x2="47.00" y2="608.70" stroke="#2b2b2b" stroke-width="1.1" />
<text transform="translate(40.50,612.70) scale(0.9390,1)" font-size="12.03" text-anchor="end" fill="#231f20" >0.2</text>
<line x1="43.40" y1="575.50" x2="47.00" y2="575.50" stroke="#2b2b2b" stroke-width="1.1" />
<text transform="translate(40.50,579.50) scale(0.9390,1)" font-size="12.03" text-anchor="end" fill="#231f20" >0.3</text>
<line x1="43.40" y1="542.30" x2="47.00" y2="542.30" stroke="#2b2b2b" stroke-width="1.1" />
<text transform="translate(40.50,546.30) scale(0.9390,1)" font-size="12.03" text-anchor="end" fill="#231f20" >0.4</text>
<line x1="43.40" y1="509.10" x2="47.00" y2="509.10" stroke="#2b2b2b" stroke-width="1.1" />
<text transform="translate(40.50,513.10) scale(0.9390,1)" font-size="12.03" text-anchor="end" fill="#231f20" >0.5</text>
<line x1="69.10" y1="667.00" x2="69.10" y2="671.00" stroke="#2b2b2b" stroke-width="1.1" />
<line x1="110.72" y1="667.00" x2="110.72" y2="671.00" stroke="#2b2b2b" stroke-width="1.1" />
<line x1="152.34" y1="667.00" x2="152.34" y2="671.00" stroke="#2b2b2b" stroke-width="1.1" />
<line x1="193.96" y1="667.00" x2="193.96" y2="671.00" stroke="#2b2b2b" stroke-width="1.1" />
<line x1="235.58" y1="667.00" x2="235.58" y2="671.00" stroke="#2b2b2b" stroke-width="1.1" />
<line x1="277.20" y1="667.00" x2="277.20" y2="671.00" stroke="#2b2b2b" stroke-width="1.1" />
<text transform="translate(69.10,684.70) scale(0.9390,1)" font-size="12.03" text-anchor="middle" fill="#231f20" >KNN</text>
<text transform="translate(110.72,684.70) scale(0.9390,1)" font-size="12.03" text-anchor="middle" fill="#231f20" >SVC</text>
<text transform="translate(152.34,684.70) scale(0.9390,1)" font-size="12.03" text-anchor="middle" fill="#231f20" >LR</text>
<text transform="translate(193.96,684.70) scale(0.9390,1)" font-size="12.03" text-anchor="middle" fill="#231f20" >GBT</text>
<text transform="translate(235.58,684.70) scale(0.9390,1)" font-size="12.03" text-anchor="middle" fill="#231f20" >ESM</text>
<text transform="translate(277.20,684.70) scale(0.9390,1)" font-size="12.03" text-anchor="middle" fill="#231f20" >MLP</text>
<text transform="translate(235.58,698.20) scale(0.9390,1)" font-size="12.03" text-anchor="middle" fill="#231f20" >+MLP</text>
<text transform="translate(172.00,708.00) scale(0.9390,1)" font-size="14.91" text-anchor="middle" fill="#231f20" >ML model</text>
<text transform="translate(19.50,575.70) rotate(-90)" font-size="14" text-anchor="middle" fill="#231f20" >AUPRC , -</text>
<rect x="58.0" y="495.3" width="16.0" height="16.0" fill="#fff" stroke="#222" stroke-width="0.9"/>
<rect x="58.0" y="515.3" width="16.0" height="15.4" fill="#606465" stroke="#222" stroke-width="0.9"/>
<text transform="translate(79.30,507.80) scale(0.9390,1)" font-size="12.03" text-anchor="start" fill="#231f20" >random sampling</text>
<text transform="translate(79.30,526.60) scale(0.9390,1)" font-size="12.03" text-anchor="start" fill="#231f20" >MLDEEP</text>
<text x="306.40" y="476.60" font-size="25" text-anchor="start" fill="#1a1a1a" font-weight="bold" >e</text>
<defs><clipPath id="cL"><rect x="350.4" y="520.2" width="162.5" height="162.5"/></clipPath><clipPath id="cR"><rect x="520.0" y="520.2" width="162.5" height="162.5"/></clipPath></defs>
<g shape-rendering="crispEdges">
<rect x="350.40" y="520.20" width="15.18" height="15.18" fill="#7d2479" />
<rect x="365.18" y="520.20" width="15.18" height="15.18" fill="#f2ab75" />
<rect x="379.96" y="520.20" width="15.18" height="15.18" fill="#f6d592" />
<rect x="394.74" y="520.20" width="15.18" height="15.18" fill="#f4bb80" />
<rect x="409.52" y="520.20" width="15.18" height="15.18" fill="#ed8a66" />
<rect x="424.30" y="520.20" width="15.18" height="15.18" fill="#f1ecb5" />
<rect x="439.08" y="520.20" width="15.18" height="15.18" fill="#f6d08f" />
<rect x="453.86" y="520.20" width="15.18" height="15.18" fill="#f5c887" />
<rect x="468.64" y="520.20" width="15.18" height="15.18" fill="#f2a873" />
<rect x="483.42" y="520.20" width="15.18" height="15.18" fill="#f6dc9a" />
<rect x="498.20" y="520.20" width="15.18" height="15.18" fill="#ee8866" />
<rect x="350.40" y="534.98" width="15.18" height="15.18" fill="#e85a5f" />
<rect x="365.18" y="534.98" width="15.18" height="15.18" fill="#ee8c66" />
<rect x="379.96" y="534.98" width="15.18" height="15.18" fill="#ef946a" />
<rect x="394.74" y="534.98" width="15.18" height="15.18" fill="#f09a6c" />
<rect x="409.52" y="534.98" width="15.18" height="15.18" fill="#f6d796" />
<rect x="424.30" y="534.98" width="15.18" height="15.18" fill="#ee8c66" />
<rect x="439.08" y="534.98" width="15.18" height="15.18" fill="#ec7e64" />
<rect x="453.86" y="534.98" width="15.18" height="15.18" fill="#f2ac76" />
<rect x="468.64" y="534.98" width="15.18" height="15.18" fill="#f4c080" />
<rect x="483.42" y="534.98" width="15.18" height="15.18" fill="#ee8866" />
<rect x="498.20" y="534.98" width="15.18" height="15.18" fill="#ec7e64" />
<rect x="350.40" y="549.76" width="15.18" height="15.18" fill="#de4d67" />
<rect x="365.18" y="549.76" width="15.18" height="15.18" fill="#f4c085" />
<rect x="379.96" y="549.76" width="15.18" height="15.18" fill="#f2ae77" />
<rect x="394.74" y="549.76" width="15.18" height="15.18" fill="#ef9a6c" />
<rect x="409.52" y="549.76" width="15.18" height="15.18" fill="#f2a873" />
<rect x="424.30" y="549.76" width="15.18" height="15.18" fill="#f1a26e" />
<rect x="439.08" y="549.76" width="15.18" height="15.18" fill="#ef946a" />
<rect x="453.86" y="549.76" width="15.18" height="15.18" fill="#ec7e64" />
<rect x="468.64" y="549.76" width="15.18" height="15.18" fill="#ed8466" />
<rect x="483.42" y="549.76" width="15.18" height="15.18" fill="#e55a60" />
<rect x="498.20" y="549.76" width="15.18" height="15.18" fill="#e8685f" />
<rect x="350.40" y="564.54" width="15.18" height="15.18" fill="#a22d7a" />
<rect x="365.18" y="564.54" width="15.18" height="15.18" fill="#ee8c66" />
<rect x="379.96" y="564.54" width="15.18" height="15.18" fill="#f6e0a0" />
<rect x="394.74" y="564.54" width="15.18" height="15.18" fill="#ee9068" />
<rect x="409.52" y="564.54" width="15.18" height="15.18" fill="#ed8a66" />
<rect x="424.30" y="564.54" width="15.18" height="15.18" fill="#ec7a64" />
<rect x="439.08" y="564.54" width="15.18" height="15.18" fill="#ec7a64" />
<rect x="453.86" y="564.54" width="15.18" height="15.18" fill="#ec7e64" />
<rect x="468.64" y="564.54" width="15.18" height="15.18" fill="#ec7a64" />
<rect x="483.42" y="564.54" width="15.18" height="15.18" fill="#db4e68" />
<rect x="498.20" y="564.54" width="15.18" height="15.18" fill="#e55a60" />
<rect x="350.40" y="579.32" width="15.18" height="15.18" fill="#ea6e62" />
<rect x="365.18" y="579.32" width="15.18" height="15.18" fill="#f5c887" />
<rect x="379.96" y="579.32" width="15.18" height="15.18" fill="#f5d18f" />
<rect x="394.74" y="579.32" width="15.18" height="15.18" fill="#f5e6a6" />
<rect x="409.52" y="579.32" width="15.18" height="15.18" fill="#f2b07a" />
<rect x="424.30" y="579.32" width="15.18" height="15.18" fill="#f1a470" />
<rect x="439.08" y="579.32" width="15.18" height="15.18" fill="#ef946a" />
<rect x="453.86" y="579.32" width="15.18" height="15.18" fill="#ea6e62" />
<rect x="468.64" y="579.32" width="15.18" height="15.18" fill="#ec7a64" />
<rect x="483.42" y="579.32" width="15.18" height="15.18" fill="#eb7462" />
<rect x="498.20" y="579.32" width="15.18" height="15.18" fill="#e8695f" />
<rect x="350.40" y="594.10" width="15.18" height="15.18" fill="#e85e60" />
<rect x="365.18" y="594.10" width="15.18" height="15.18" fill="#ef9468" />
<rect x="379.96" y="594.10" width="15.18" height="15.18" fill="#f0a06c" />
<rect x="394.74" y="594.10" width="15.18" height="15.18" fill="#ee8a66" />
<rect x="409.52" y="594.10" width="15.18" height="15.18" fill="#ee8a66" />
<rect x="424.30" y="594.10" width="15.18" height="15.18" fill="#ef9468" />
<rect x="439.08" y="594.10" width="15.18" height="15.18" fill="#ea6a60" />
<rect x="453.86" y="594.10" width="15.18" height="15.18" fill="#f1a06e" />
<rect x="468.64" y="594.10" width="15.18" height="15.18" fill="#e85e60" />
<rect x="483.42" y="594.10" width="15.18" height="15.18" fill="#dc4e68" />
<rect x="498.20" y="594.10" width="15.18" height="15.18" fill="#c93e72" />
<rect x="350.40" y="608.88" width="15.18" height="15.18" fill="#ef9468" />
<rect x="365.18" y="608.88" width="15.18" height="15.18" fill="#f6cf8d" />
<rect x="379.96" y="608.88" width="15.18" height="15.18" fill="#ef9468" />
<rect x="394.74" y="608.88" width="15.18" height="15.18" fill="#ed8766" />
<rect x="409.52" y="608.88" width="15.18" height="15.18" fill="#ef9468" />
<rect x="424.30" y="608.88" width="15.18" height="15.18" fill="#ef9468" />
<rect x="439.08" y="608.88" width="15.18" height="15.18" fill="#e85e60" />
<rect x="453.86" y="608.88" width="15.18" height="15.18" fill="#d6476a" />
<rect x="468.64" y="608.88" width="15.18" height="15.18" fill="#ea6c60" />
<rect x="483.42" y="608.88" width="15.18" height="15.18" fill="#e85e60" />
<rect x="498.20" y="608.88" width="15.18" height="15.18" fill="#c93e72" />
<rect x="350.40" y="623.66" width="15.18" height="15.18" fill="#f5c887" />
<rect x="365.18" y="623.66" width="15.18" height="15.18" fill="#ee8c66" />
<rect x="379.96" y="623.66" width="15.18" height="15.18" fill="#f4b87e" />
<rect x="394.74" y="623.66" width="15.18" height="15.18" fill="#ee8a66" />
<rect x="409.52" y="623.66" width="15.18" height="15.18" fill="#ec8064" />
<rect x="424.30" y="623.66" width="15.18" height="15.18" fill="#e85e60" />
<rect x="439.08" y="623.66" width="15.18" height="15.18" fill="#d8486a" />
<rect x="453.86" y="623.66" width="15.18" height="15.18" fill="#ea7062" />
<rect x="468.64" y="623.66" width="15.18" height="15.18" fill="#e55a60" />
<rect x="483.42" y="623.66" width="15.18" height="15.18" fill="#ea6a60" />
<rect x="498.20" y="623.66" width="15.18" height="15.18" fill="#e8605f" />
<rect x="350.40" y="638.44" width="15.18" height="15.18" fill="#ea6d62" />
<rect x="365.18" y="638.44" width="15.18" height="15.18" fill="#c93e72" />
<rect x="379.96" y="638.44" width="15.18" height="15.18" fill="#e45a62" />
<rect x="394.74" y="638.44" width="15.18" height="15.18" fill="#ea6e62" />
<rect x="409.52" y="638.44" width="15.18" height="15.18" fill="#d0466c" />
<rect x="424.30" y="638.44" width="15.18" height="15.18" fill="#e55a60" />
<rect x="439.08" y="638.44" width="15.18" height="15.18" fill="#6e2278" />
<rect x="453.86" y="638.44" width="15.18" height="15.18" fill="#e05465" />
<rect x="468.64" y="638.44" width="15.18" height="15.18" fill="#b8337a" />
<rect x="483.42" y="638.44" width="15.18" height="15.18" fill="#552a7a" />
<rect x="498.20" y="638.44" width="15.18" height="15.18" fill="#9e2e7a" />
<rect x="350.40" y="653.22" width="15.18" height="15.18" fill="#b3357a" />
<rect x="365.18" y="653.22" width="15.18" height="15.18" fill="#d0456c" />
<rect x="379.96" y="653.22" width="15.18" height="15.18" fill="#eb7463" />
<rect x="394.74" y="653.22" width="15.18" height="15.18" fill="#dc4d68" />
<rect x="409.52" y="653.22" width="15.18" height="15.18" fill="#e65c60" />
<rect x="424.30" y="653.22" width="15.18" height="15.18" fill="#d84a6a" />
<rect x="439.08" y="653.22" width="15.18" height="15.18" fill="#a62f7a" />
<rect x="453.86" y="653.22" width="15.18" height="15.18" fill="#4e2a7b" />
<rect x="468.64" y="653.22" width="15.18" height="15.18" fill="#6e2278" />
<rect x="483.42" y="653.22" width="15.18" height="15.18" fill="#6a2478" />
<rect x="498.20" y="653.22" width="15.18" height="15.18" fill="#2f2166" />
<rect x="350.40" y="668.00" width="15.18" height="15.18" fill="#6b2479" />
<rect x="365.18" y="668.00" width="15.18" height="15.18" fill="#8a2a7b" />
<rect x="379.96" y="668.00" width="15.18" height="15.18" fill="#e05465" />
<rect x="394.74" y="668.00" width="15.18" height="15.18" fill="#c2407a" />
<rect x="409.52" y="668.00" width="15.18" height="15.18" fill="#a62f7a" />
<rect x="424.30" y="668.00" width="15.18" height="15.18" fill="#b3387a" />
<rect x="439.08" y="668.00" width="15.18" height="15.18" fill="#5f2a7c" />
<rect x="453.86" y="668.00" width="15.18" height="15.18" fill="#100a30" />
<rect x="468.64" y="668.00" width="15.18" height="15.18" fill="#4e2a7b" />
<rect x="483.42" y="668.00" width="15.18" height="15.18" fill="#552a7a" />
<rect x="498.20" y="668.00" width="15.18" height="15.18" fill="#000004" />
</g>
<g clip-path="url(#cL)" stroke="#ffffff" stroke-opacity="0.3" stroke-width="0.8">
<line x1="227.16" y1="515.20" x2="399.74" y2="687.78"/>
<line x1="256.72" y1="515.20" x2="429.30" y2="687.78"/>
<line x1="286.28" y1="515.20" x2="458.86" y2="687.78"/>
<line x1="315.84" y1="515.20" x2="488.42" y2="687.78"/>
<line x1="345.40" y1="515.20" x2="517.98" y2="687.78"/>
<line x1="374.96" y1="515.20" x2="547.54" y2="687.78"/>
<line x1="404.52" y1="515.20" x2="577.10" y2="687.78"/>
<line x1="434.08" y1="515.20" x2="606.66" y2="687.78"/>
<line x1="463.64" y1="515.20" x2="636.22" y2="687.78"/>
</g>
<line x1="357.79" y1="675.39" x2="505.59" y2="527.59" stroke="#2a2a2a" stroke-width="1.0" />
<line x1="356.23" y1="673.83" x2="359.35" y2="676.95" stroke="#333" stroke-width="0.9" />
<line x1="371.65" y1="659.69" x2="373.49" y2="661.53" stroke="#333" stroke-width="0.9" />
<line x1="386.43" y1="644.91" x2="388.27" y2="646.75" stroke="#333" stroke-width="0.9" />
<line x1="401.21" y1="630.13" x2="403.05" y2="631.97" stroke="#333" stroke-width="0.9" />
<line x1="415.99" y1="615.35" x2="417.83" y2="617.19" stroke="#333" stroke-width="0.9" />
<line x1="430.77" y1="600.57" x2="432.61" y2="602.41" stroke="#333" stroke-width="0.9" />
<line x1="445.55" y1="585.79" x2="447.39" y2="587.63" stroke="#333" stroke-width="0.9" />
<line x1="460.33" y1="571.01" x2="462.17" y2="572.85" stroke="#333" stroke-width="0.9" />
<line x1="475.11" y1="556.23" x2="476.95" y2="558.07" stroke="#333" stroke-width="0.9" />
<line x1="489.89" y1="541.45" x2="491.73" y2="543.29" stroke="#333" stroke-width="0.9" />
<line x1="504.03" y1="526.03" x2="507.15" y2="529.15" stroke="#333" stroke-width="0.9" />
<text transform="translate(509.49,530.29) rotate(-45)" font-size="7" text-anchor="middle" fill="#333" y="2.5">0</text>
<text transform="translate(435.79,604.19) rotate(-45)" font-size="7" text-anchor="middle" fill="#333" y="2.5">0.5k</text>
<text transform="translate(360.69,677.99) rotate(-45)" font-size="7.5" font-weight="bold" text-anchor="middle" fill="#fff" fill-opacity="0.9" y="2.5">1k</text>
<text transform="translate(425.43,599.15) rotate(-45)" font-size="11.5" text-anchor="middle" fill="#1a1a1a">no. variants library AB</text>
<g shape-rendering="crispEdges">
<rect x="520.00" y="520.20" width="15.18" height="15.18" fill="#a8307a" />
<rect x="534.78" y="520.20" width="15.18" height="15.18" fill="#f2aa75" />
<rect x="549.56" y="520.20" width="15.18" height="15.18" fill="#f3b17a" />
<rect x="564.34" y="520.20" width="15.18" height="15.18" fill="#f6df9a" />
<rect x="579.12" y="520.20" width="15.18" height="15.18" fill="#f2ae77" />
<rect x="593.90" y="520.20" width="15.18" height="15.18" fill="#f6db98" />
<rect x="608.68" y="520.20" width="15.18" height="15.18" fill="#f1ecb5" />
<rect x="623.46" y="520.20" width="15.18" height="15.18" fill="#f6d995" />
<rect x="638.24" y="520.20" width="15.18" height="15.18" fill="#f4c080" />
<rect x="653.02" y="520.20" width="15.18" height="15.18" fill="#f4bb80" />
<rect x="667.80" y="520.20" width="15.18" height="15.18" fill="#ed8866" />
<rect x="520.00" y="534.98" width="15.18" height="15.18" fill="#f2b07a" />
<rect x="534.78" y="534.98" width="15.18" height="15.18" fill="#ec8866" />
<rect x="549.56" y="534.98" width="15.18" height="15.18" fill="#ed8a66" />
<rect x="564.34" y="534.98" width="15.18" height="15.18" fill="#ef956a" />
<rect x="579.12" y="534.98" width="15.18" height="15.18" fill="#f5c987" />
<rect x="593.90" y="534.98" width="15.18" height="15.18" fill="#f3b27a" />
<rect x="608.68" y="534.98" width="15.18" height="15.18" fill="#f0a06e" />
<rect x="623.46" y="534.98" width="15.18" height="15.18" fill="#f3ecb0" />
<rect x="638.24" y="534.98" width="15.18" height="15.18" fill="#f2b07a" />
<rect x="653.02" y="534.98" width="15.18" height="15.18" fill="#f2ae77" />
<rect x="667.80" y="534.98" width="15.18" height="15.18" fill="#ed8866" />
<rect x="520.00" y="549.76" width="15.18" height="15.18" fill="#ec8066" />
<rect x="534.78" y="549.76" width="15.18" height="15.18" fill="#f4bb80" />
<rect x="549.56" y="549.76" width="15.18" height="15.18" fill="#f5c586" />
<rect x="564.34" y="549.76" width="15.18" height="15.18" fill="#f4bb80" />
<rect x="579.12" y="549.76" width="15.18" height="15.18" fill="#ee8a66" />
<rect x="593.90" y="549.76" width="15.18" height="15.18" fill="#f2ae77" />
<rect x="608.68" y="549.76" width="15.18" height="15.18" fill="#f5d08f" />
<rect x="623.46" y="549.76" width="15.18" height="15.18" fill="#ec8466" />
<rect x="638.24" y="549.76" width="15.18" height="15.18" fill="#ef9a6c" />
<rect x="653.02" y="549.76" width="15.18" height="15.18" fill="#ed8866" />
<rect x="667.80" y="549.76" width="15.18" height="15.18" fill="#f0a06e" />
<rect x="520.00" y="564.54" width="15.18" height="15.18" fill="#d4456c" />
<rect x="534.78" y="564.54" width="15.18" height="15.18" fill="#f4c082" />
<rect x="549.56" y="564.54" width="15.18" height="15.18" fill="#f6d08f" />
<rect x="564.34" y="564.54" width="15.18" height="15.18" fill="#ee8a66" />
<rect x="579.12" y="564.54" width="15.18" height="15.18" fill="#ee8c66" />
<rect x="593.90" y="564.54" width="15.18" height="15.18" fill="#ec7a64" />
<rect x="608.68" y="564.54" width="15.18" height="15.18" fill="#ef956a" />
<rect x="623.46" y="564.54" width="15.18" height="15.18" fill="#ef9a6c" />
<rect x="638.24" y="564.54" width="15.18" height="15.18" fill="#ee9068" />
<rect x="653.02" y="564.54" width="15.18" height="15.18" fill="#e55a60" />
<rect x="667.80" y="564.54" width="15.18" height="15.18" fill="#e8605f" />
<rect x="520.00" y="579.32" width="15.18" height="15.18" fill="#e8605f" />
<rect x="534.78" y="579.32" width="15.18" height="15.18" fill="#f1a06e" />
<rect x="549.56" y="579.32" width="15.18" height="15.18" fill="#f2aa75" />
<rect x="564.34" y="579.32" width="15.18" height="15.18" fill="#f6e0a0" />
<rect x="579.12" y="579.32" width="15.18" height="15.18" fill="#f5c887" />
<rect x="593.90" y="579.32" width="15.18" height="15.18" fill="#ef9468" />
<rect x="608.68" y="579.32" width="15.18" height="15.18" fill="#ef9468" />
<rect x="623.46" y="579.32" width="15.18" height="15.18" fill="#ef9468" />
<rect x="638.24" y="579.32" width="15.18" height="15.18" fill="#ec8064" />
<rect x="653.02" y="579.32" width="15.18" height="15.18" fill="#ec7a64" />
<rect x="667.80" y="579.32" width="15.18" height="15.18" fill="#ed8866" />
<rect x="520.00" y="594.10" width="15.18" height="15.18" fill="#ea6a60" />
<rect x="534.78" y="594.10" width="15.18" height="15.18" fill="#f0a06e" />
<rect x="549.56" y="594.10" width="15.18" height="15.18" fill="#e8605f" />
<rect x="564.34" y="594.10" width="15.18" height="15.18" fill="#ef956a" />
<rect x="579.12" y="594.10" width="15.18" height="15.18" fill="#f2a873" />
<rect x="593.90" y="594.10" width="15.18" height="15.18" fill="#ec8064" />
<rect x="608.68" y="594.10" width="15.18" height="15.18" fill="#ee8a66" />
<rect x="623.46" y="594.10" width="15.18" height="15.18" fill="#ef946a" />
<rect x="638.24" y="594.10" width="15.18" height="15.18" fill="#ea6e62" />
<rect x="653.02" y="594.10" width="15.18" height="15.18" fill="#e05465" />
<rect x="667.80" y="594.10" width="15.18" height="15.18" fill="#dc4e68" />
<rect x="520.00" y="608.88" width="15.18" height="15.18" fill="#e8605f" />
<rect x="534.78" y="608.88" width="15.18" height="15.18" fill="#f2ae77" />
<rect x="549.56" y="608.88" width="15.18" height="15.18" fill="#ea6a60" />
<rect x="564.34" y="608.88" width="15.18" height="15.18" fill="#e8645f" />
<rect x="579.12" y="608.88" width="15.18" height="15.18" fill="#ee8866" />
<rect x="593.90" y="608.88" width="15.18" height="15.18" fill="#ec8064" />
<rect x="608.68" y="608.88" width="15.18" height="15.18" fill="#e55a60" />
<rect x="623.46" y="608.88" width="15.18" height="15.18" fill="#e05465" />
<rect x="638.24" y="608.88" width="15.18" height="15.18" fill="#e8605f" />
<rect x="653.02" y="608.88" width="15.18" height="15.18" fill="#e8605f" />
<rect x="667.80" y="608.88" width="15.18" height="15.18" fill="#d0456c" />
<rect x="520.00" y="623.66" width="15.18" height="15.18" fill="#ef9468" />
<rect x="534.78" y="623.66" width="15.18" height="15.18" fill="#c93e72" />
<rect x="549.56" y="623.66" width="15.18" height="15.18" fill="#ea6a60" />
<rect x="564.34" y="623.66" width="15.18" height="15.18" fill="#e8605f" />
<rect x="579.12" y="623.66" width="15.18" height="15.18" fill="#e8605f" />
<rect x="593.90" y="623.66" width="15.18" height="15.18" fill="#e8605f" />
<rect x="608.68" y="623.66" width="15.18" height="15.18" fill="#ec7a64" />
<rect x="623.46" y="623.66" width="15.18" height="15.18" fill="#d4456c" />
<rect x="638.24" y="623.66" width="15.18" height="15.18" fill="#d4456c" />
<rect x="653.02" y="623.66" width="15.18" height="15.18" fill="#d4456c" />
<rect x="667.80" y="623.66" width="15.18" height="15.18" fill="#d4456c" />
<rect x="520.00" y="638.44" width="15.18" height="15.18" fill="#dc4d68" />
<rect x="534.78" y="638.44" width="15.18" height="15.18" fill="#e05465" />
<rect x="549.56" y="638.44" width="15.18" height="15.18" fill="#a22d7a" />
<rect x="564.34" y="638.44" width="15.18" height="15.18" fill="#e05465" />
<rect x="579.12" y="638.44" width="15.18" height="15.18" fill="#c93e72" />
<rect x="593.90" y="638.44" width="15.18" height="15.18" fill="#c2407a" />
<rect x="608.68" y="638.44" width="15.18" height="15.18" fill="#c93e72" />
<rect x="623.46" y="638.44" width="15.18" height="15.18" fill="#d4456c" />
<rect x="638.24" y="638.44" width="15.18" height="15.18" fill="#952a7b" />
<rect x="653.02" y="638.44" width="15.18" height="15.18" fill="#6e2278" />
<rect x="667.80" y="638.44" width="15.18" height="15.18" fill="#6e2278" />
<rect x="520.00" y="653.22" width="15.18" height="15.18" fill="#b3357a" />
<rect x="534.78" y="653.22" width="15.18" height="15.18" fill="#e55a60" />
<rect x="549.56" y="653.22" width="15.18" height="15.18" fill="#e55a60" />
<rect x="564.34" y="653.22" width="15.18" height="15.18" fill="#822679" />
<rect x="579.12" y="653.22" width="15.18" height="15.18" fill="#e05465" />
<rect x="593.90" y="653.22" width="15.18" height="15.18" fill="#b3357a" />
<rect x="608.68" y="653.22" width="15.18" height="15.18" fill="#a22d7a" />
<rect x="623.46" y="653.22" width="15.18" height="15.18" fill="#6e2478" />
<rect x="638.24" y="653.22" width="15.18" height="15.18" fill="#822679" />
<rect x="653.02" y="653.22" width="15.18" height="15.18" fill="#7a2579" />
<rect x="667.80" y="653.22" width="15.18" height="15.18" fill="#3c2a75" />
<rect x="520.00" y="668.00" width="15.18" height="15.18" fill="#6e2278" />
<rect x="534.78" y="668.00" width="15.18" height="15.18" fill="#952a7b" />
<rect x="549.56" y="668.00" width="15.18" height="15.18" fill="#c93e72" />
<rect x="564.34" y="668.00" width="15.18" height="15.18" fill="#b3357a" />
<rect x="579.12" y="668.00" width="15.18" height="15.18" fill="#4b2a7c" />
<rect x="593.90" y="668.00" width="15.18" height="15.18" fill="#6e2278" />
<rect x="608.68" y="668.00" width="15.18" height="15.18" fill="#221650" />
<rect x="623.46" y="668.00" width="15.18" height="15.18" fill="#120d30" />
<rect x="638.24" y="668.00" width="15.18" height="15.18" fill="#1e1248" />
<rect x="653.02" y="668.00" width="15.18" height="15.18" fill="#4e2a7b" />
<rect x="667.80" y="668.00" width="15.18" height="15.18" fill="#000004" />
</g>
<g clip-path="url(#cR)" stroke="#ffffff" stroke-opacity="0.3" stroke-width="0.8">
<line x1="396.76" y1="515.20" x2="569.34" y2="687.78"/>
<line x1="426.32" y1="515.20" x2="598.90" y2="687.78"/>
<line x1="455.88" y1="515.20" x2="628.46" y2="687.78"/>
<line x1="485.44" y1="515.20" x2="658.02" y2="687.78"/>
<line x1="515.00" y1="515.20" x2="687.58" y2="687.78"/>
<line x1="544.56" y1="515.20" x2="717.14" y2="687.78"/>
<line x1="574.12" y1="515.20" x2="746.70" y2="687.78"/>
<line x1="603.68" y1="515.20" x2="776.26" y2="687.78"/>
<line x1="633.24" y1="515.20" x2="805.82" y2="687.78"/>
</g>
<line x1="527.39" y1="675.39" x2="675.19" y2="527.59" stroke="#2a2a2a" stroke-width="1.0" />
<line x1="525.83" y1="673.83" x2="528.95" y2="676.95" stroke="#333" stroke-width="0.9" />
<line x1="541.25" y1="659.69" x2="543.09" y2="661.53" stroke="#333" stroke-width="0.9" />
<line x1="556.03" y1="644.91" x2="557.87" y2="646.75" stroke="#333" stroke-width="0.9" />
<line x1="570.81" y1="630.13" x2="572.65" y2="631.97" stroke="#333" stroke-width="0.9" />
<line x1="585.59" y1="615.35" x2="587.43" y2="617.19" stroke="#333" stroke-width="0.9" />
<line x1="600.37" y1="600.57" x2="602.21" y2="602.41" stroke="#333" stroke-width="0.9" />
<line x1="615.15" y1="585.79" x2="616.99" y2="587.63" stroke="#333" stroke-width="0.9" />
<line x1="629.93" y1="571.01" x2="631.77" y2="572.85" stroke="#333" stroke-width="0.9" />
<line x1="644.71" y1="556.23" x2="646.55" y2="558.07" stroke="#333" stroke-width="0.9" />
<line x1="659.49" y1="541.45" x2="661.33" y2="543.29" stroke="#333" stroke-width="0.9" />
<line x1="673.63" y1="526.03" x2="676.75" y2="529.15" stroke="#333" stroke-width="0.9" />
<text transform="translate(679.09,530.29) rotate(-45)" font-size="7" text-anchor="middle" fill="#333" y="2.5">0</text>
<text transform="translate(605.39,604.19) rotate(-45)" font-size="7" text-anchor="middle" fill="#333" y="2.5">0.5k</text>
<text transform="translate(530.29,677.99) rotate(-45)" font-size="7.5" font-weight="bold" text-anchor="middle" fill="#fff" fill-opacity="0.9" y="2.5">1k</text>
<text transform="translate(595.03,599.15) rotate(-45)" font-size="11.5" text-anchor="middle" fill="#1a1a1a">no. variants library AB</text>
<text transform="translate(346.80,531.59) scale(0.9390,1)" font-size="12.03" text-anchor="end" fill="#231f20" >500</text>
<text transform="translate(346.80,561.15) scale(0.9390,1)" font-size="12.03" text-anchor="end" fill="#231f20" >400</text>
<text transform="translate(346.80,590.71) scale(0.9390,1)" font-size="12.03" text-anchor="end" fill="#231f20" >300</text>
<text transform="translate(346.80,620.27) scale(0.9390,1)" font-size="12.03" text-anchor="end" fill="#231f20" >200</text>
<text transform="translate(346.80,649.83) scale(0.9390,1)" font-size="12.03" text-anchor="end" fill="#231f20" >100</text>
<text transform="translate(346.80,679.39) scale(0.9390,1)" font-size="12.03" text-anchor="end" fill="#231f20" >0</text>
<text transform="translate(357.79,695.30) scale(0.9390,1)" font-size="12.03" text-anchor="middle" fill="#231f20" >0</text>
<text transform="translate(387.35,695.30) scale(0.9390,1)" font-size="12.03" text-anchor="middle" fill="#231f20" >100</text>
<text transform="translate(416.91,695.30) scale(0.9390,1)" font-size="12.03" text-anchor="middle" fill="#231f20" >200</text>
<text transform="translate(446.47,695.30) scale(0.9390,1)" font-size="12.03" text-anchor="middle" fill="#231f20" >300</text>
<text transform="translate(476.03,695.30) scale(0.9390,1)" font-size="12.03" text-anchor="middle" fill="#231f20" >400</text>
<text transform="translate(505.59,695.30) scale(0.9390,1)" font-size="12.03" text-anchor="middle" fill="#231f20" >500</text>
<text transform="translate(527.39,695.30) scale(0.9390,1)" font-size="12.03" text-anchor="middle" fill="#231f20" >0</text>
<text transform="translate(556.95,695.30) scale(0.9390,1)" font-size="12.03" text-anchor="middle" fill="#231f20" >100</text>
<text transform="translate(586.51,695.30) scale(0.9390,1)" font-size="12.03" text-anchor="middle" fill="#231f20" >200</text>
<text transform="translate(616.07,695.30) scale(0.9390,1)" font-size="12.03" text-anchor="middle" fill="#231f20" >300</text>
<text transform="translate(645.63,695.30) scale(0.9390,1)" font-size="12.03" text-anchor="middle" fill="#231f20" >400</text>
<text transform="translate(675.19,695.30) scale(0.9390,1)" font-size="12.03" text-anchor="middle" fill="#231f20" >500</text>
<text transform="translate(516.20,711.80) scale(0.9390,1)" font-size="14.91" text-anchor="middle" fill="#231f20" >no. variants library B</text>
<text transform="translate(324.60,601.00) rotate(-90)" font-size="14" text-anchor="middle" fill="#231f20" >no. variants library A</text>
<rect x="385.30" y="503.90" width="91.60" height="10.50" fill="url(#gE)" />
<line x1="385.30" y1="500.60" x2="385.30" y2="504.20" stroke="#111" stroke-width="1.1" />
<line x1="430.90" y1="500.60" x2="430.90" y2="504.20" stroke="#111" stroke-width="1.1" />
<line x1="476.50" y1="500.60" x2="476.50" y2="504.20" stroke="#111" stroke-width="1.1" />
<rect x="557.20" y="503.60" width="91.30" height="10.70" fill="url(#gE)" />
<line x1="557.20" y1="500.30" x2="557.20" y2="504.00" stroke="#111" stroke-width="1.1" />
<line x1="602.70" y1="500.30" x2="602.70" y2="514.30" stroke="#111" stroke-width="1.1" />
<line x1="648.20" y1="500.30" x2="648.20" y2="514.30" stroke="#111" stroke-width="1.1" />
<text transform="translate(385.80,497.60) scale(0.9390,1)" font-size="12.03" text-anchor="middle" fill="#231f20" >0.35</text>
<text transform="translate(431.30,497.60) scale(0.9390,1)" font-size="12.03" text-anchor="middle" fill="#231f20" >0.43</text>
<text transform="translate(476.20,497.60) scale(0.9390,1)" font-size="12.03" text-anchor="middle" fill="#231f20" >0.50</text>
<text transform="translate(557.50,497.60) scale(0.9390,1)" font-size="12.03" text-anchor="middle" fill="#231f20" >0.34</text>
<text transform="translate(602.70,497.60) scale(0.9390,1)" font-size="12.03" text-anchor="middle" fill="#231f20" >0.41</text>
<text transform="translate(648.00,497.60) scale(0.9390,1)" font-size="12.03" text-anchor="middle" fill="#231f20" >0.49</text>
<text transform="translate(431.70,483.20) scale(0.9390,1)" font-size="14.48" text-anchor="middle" fill="#231f20" >ESM+MLP</text>
<text transform="translate(602.70,482.60) scale(0.9390,1)" font-size="14.48" text-anchor="middle" fill="#231f20" >MLP</text>
<text transform="translate(489.00,513.70) scale(0.9390,1)" font-size="14.70" text-anchor="start" fill="#231f20" >AUPRC,-</text>
</svg>
</body></html>
